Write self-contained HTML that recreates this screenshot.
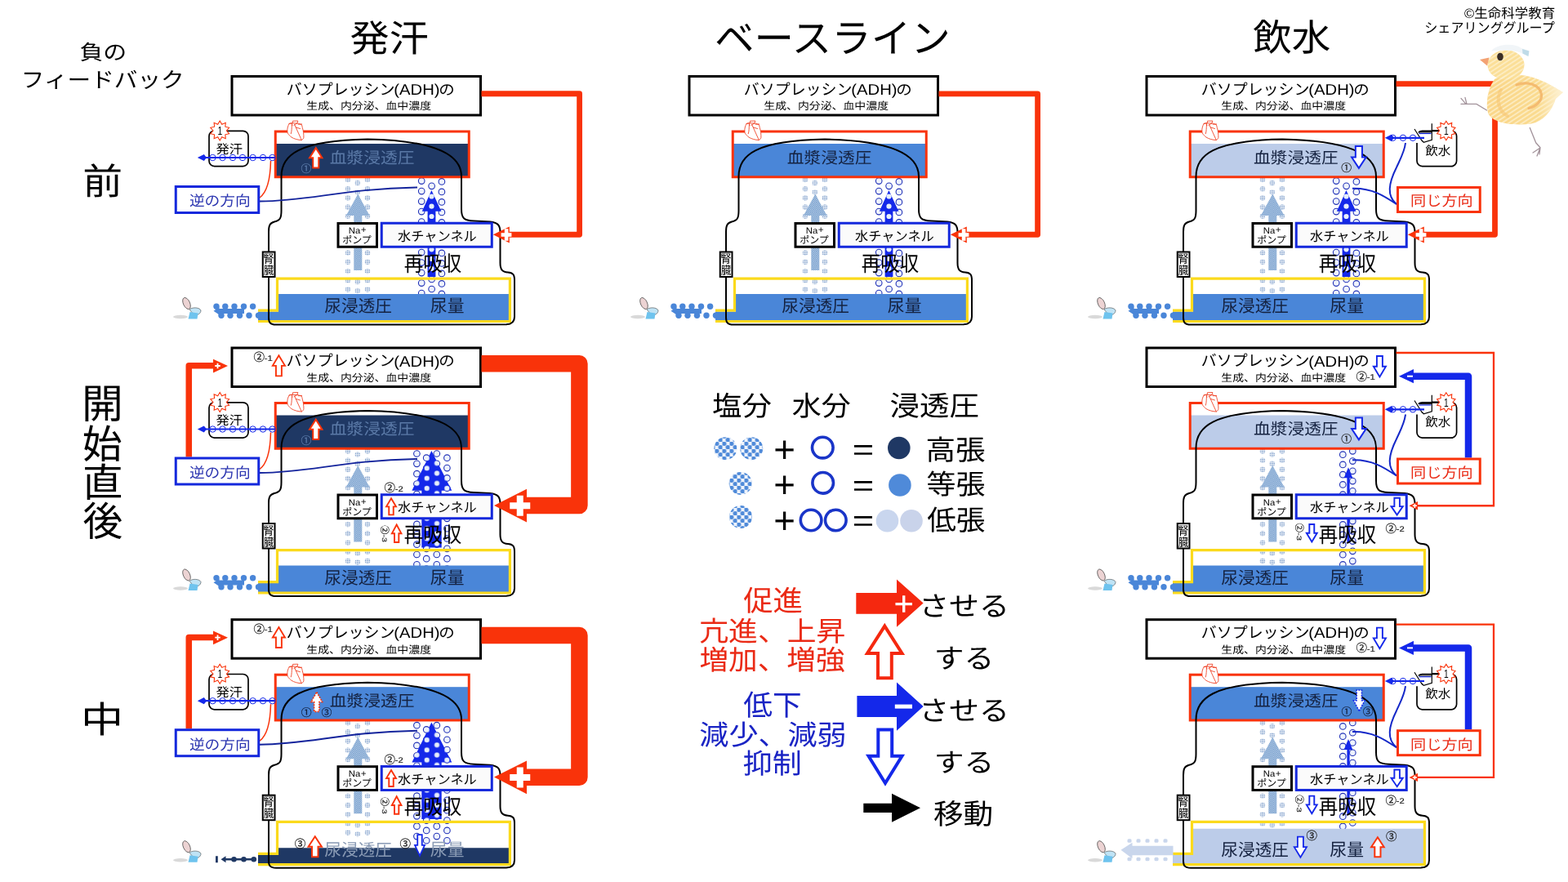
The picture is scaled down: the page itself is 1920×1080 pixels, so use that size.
<!DOCTYPE html>
<html lang="ja">
<head>
<meta charset="utf-8">
<title>負のフィードバック：発汗・ベースライン・飲水</title>
<style>
html,body{margin:0;padding:0;background:#fff;}
body{width:1920px;height:1080px;overflow:hidden;font-family:"Liberation Sans","Noto Sans CJK JP",sans-serif;}
svg{display:block;will-change:transform;}
svg text{font-family:"Liberation Sans","Noto Sans CJK JP",sans-serif;opacity:.995;text-rendering:geometricPrecision;}
</style>
</head>
<body>
<svg width="1920" height="1080" viewBox="0 0 1920 1080" role="img" aria-label="負のフィードバック 発汗 ベースライン 飲水 前 開始直後 中 バソプレッシン(ADH)の生成、内分泌、血中濃度 血漿浸透圧 水チャンネル Na+ポンプ 再吸収 尿浸透圧 尿量 腎臓">
<title>負のフィードバック：発汗・ベースライン・飲水（前／開始直後／中）</title>
<desc>バソプレッシン(ADH)の生成、内分泌、血中濃度。血漿浸透圧、Na+ポンプ、水チャンネル、再吸収、尿浸透圧、尿量、腎臓。逆の方向／同じ方向。塩分＋水分＝浸透圧（高張・等張・低張）。促進・亢進、上昇・増加、増強／低下・減少、減弱・抑制／移動。©生命科学教育シェアリンググループ</desc>
<defs>
<pattern id="pn" width="2.4" height="2.4" patternUnits="userSpaceOnUse"><rect width="2.4" height="2.4" fill="#d3e1f1"/><rect width="1.25" height="1.25" fill="#5a8ac2"/><rect x="1.2" y="1.2" width="1.25" height="1.25" fill="#5a8ac2"/></pattern>
<pattern id="pd" width="1.7" height="1.7" patternUnits="userSpaceOnUse"><rect width="1.7" height="1.7" fill="#f1f5fb"/><rect width="1" height="1" fill="#6d90c2"/></pattern>
<linearGradient id="cg" x1="0" x2="1" y1="0" y2="0"><stop offset="0" stop-color="#fad689"/><stop offset=".68" stop-color="#fadb90"/><stop offset="1" stop-color="#fdf3d9"/></linearGradient>
<pattern id="ph" width="4.6" height="4.6" patternUnits="userSpaceOnUse" patternTransform="rotate(-33)"><rect width="4.6" height="1.7" fill="#fdf0cb" opacity=".85"/></pattern>
<pattern id="pw" width="24.6" height="12.3" patternUnits="userSpaceOnUse" patternTransform="translate(498.1 216.25)"><rect width="24.6" height="12.3" fill="#1428ea"/><circle cx="12.3" cy="6.15" r="3.1" fill="#e6eefb"/><circle cx="0" cy="0" r="3.1" fill="#e6eefb"/><circle cx="24.6" cy="0" r="3.1" fill="#e6eefb"/><circle cx="0" cy="12.3" r="3.1" fill="#e6eefb"/><circle cx="24.6" cy="12.3" r="3.1" fill="#e6eefb"/></pattern>
<pattern id="pc" width="9" height="9" patternUnits="userSpaceOnUse" patternTransform="translate(2.5 1)"><rect width="9" height="9" fill="#eef3fb"/><circle cx="2.25" cy="2.25" r="2.7" fill="#4f8ad9"/><circle cx="6.75" cy="6.75" r="2.7" fill="#4f8ad9"/></pattern>
</defs>
<rect width="1920" height="1080" fill="#fff"/>
<g transform="translate(0 0)"><rect x="338" y="176" width="237" height="41" fill="#1f3864"/>
<circle cx="426" cy="220" r="3.3" fill="url(#pd)"/>
<circle cx="450" cy="220" r="3.3" fill="url(#pd)"/>
<circle cx="426" cy="231.2" r="3.3" fill="url(#pd)"/>
<circle cx="450" cy="231.2" r="3.3" fill="url(#pd)"/>
<circle cx="426" cy="242.4" r="3.3" fill="url(#pd)"/>
<circle cx="450" cy="242.4" r="3.3" fill="url(#pd)"/>
<circle cx="426" cy="253.6" r="3.3" fill="url(#pd)"/>
<circle cx="450" cy="253.6" r="3.3" fill="url(#pd)"/>
<circle cx="426" cy="264.8" r="3.3" fill="url(#pd)"/>
<circle cx="450" cy="264.8" r="3.3" fill="url(#pd)"/>
<circle cx="426" cy="276" r="3.3" fill="url(#pd)"/>
<circle cx="450" cy="276" r="3.3" fill="url(#pd)"/>
<circle cx="426" cy="287.2" r="3.3" fill="url(#pd)"/>
<circle cx="450" cy="287.2" r="3.3" fill="url(#pd)"/>
<circle cx="426" cy="298.4" r="3.3" fill="url(#pd)"/>
<circle cx="450" cy="298.4" r="3.3" fill="url(#pd)"/>
<circle cx="426" cy="309.6" r="3.3" fill="url(#pd)"/>
<circle cx="450" cy="309.6" r="3.3" fill="url(#pd)"/>
<circle cx="426" cy="320.8" r="3.3" fill="url(#pd)"/>
<circle cx="450" cy="320.8" r="3.3" fill="url(#pd)"/>
<circle cx="426" cy="332" r="3.3" fill="url(#pd)"/>
<circle cx="450" cy="332" r="3.3" fill="url(#pd)"/>
<circle cx="426" cy="343.2" r="3.3" fill="url(#pd)"/>
<circle cx="450" cy="343.2" r="3.3" fill="url(#pd)"/>
<circle cx="426" cy="354.4" r="3.3" fill="url(#pd)"/>
<circle cx="450" cy="354.4" r="3.3" fill="url(#pd)"/>
<circle cx="437.8" cy="224" r="3.3" fill="url(#pd)"/>
<circle cx="437.8" cy="235.4" r="3.3" fill="url(#pd)"/>
<circle cx="437.8" cy="345" r="3.3" fill="url(#pd)"/>
<circle cx="437.8" cy="356" r="3.3" fill="url(#pd)"/>
<path d="M438.3 237.5L452.5 264H443.3V331H433.3V264H423.8Z" fill="url(#pn)"/>
<circle cx="516.2" cy="221.6" r="3.8" fill="#eef3fc" stroke="#2232b8" stroke-width="1.1"/>
<circle cx="540.9" cy="222.4" r="3.8" fill="#eef3fc" stroke="#2232b8" stroke-width="1.1"/>
<circle cx="516.2" cy="234.1" r="3.8" fill="#eef3fc" stroke="#2232b8" stroke-width="1.1"/>
<circle cx="540.9" cy="234.9" r="3.8" fill="#eef3fc" stroke="#2232b8" stroke-width="1.1"/>
<circle cx="516.2" cy="246.6" r="3.8" fill="#eef3fc" stroke="#2232b8" stroke-width="1.1"/>
<circle cx="540.9" cy="247.4" r="3.8" fill="#eef3fc" stroke="#2232b8" stroke-width="1.1"/>
<circle cx="516.2" cy="259.1" r="3.8" fill="#eef3fc" stroke="#2232b8" stroke-width="1.1"/>
<circle cx="540.9" cy="259.9" r="3.8" fill="#eef3fc" stroke="#2232b8" stroke-width="1.1"/>
<circle cx="516.2" cy="271.6" r="3.8" fill="#eef3fc" stroke="#2232b8" stroke-width="1.1"/>
<circle cx="540.9" cy="272.4" r="3.8" fill="#eef3fc" stroke="#2232b8" stroke-width="1.1"/>
<circle cx="516.2" cy="284.1" r="3.8" fill="#eef3fc" stroke="#2232b8" stroke-width="1.1"/>
<circle cx="540.9" cy="284.9" r="3.8" fill="#eef3fc" stroke="#2232b8" stroke-width="1.1"/>
<circle cx="516.2" cy="296.6" r="3.8" fill="#eef3fc" stroke="#2232b8" stroke-width="1.1"/>
<circle cx="540.9" cy="297.4" r="3.8" fill="#eef3fc" stroke="#2232b8" stroke-width="1.1"/>
<circle cx="516.2" cy="309.1" r="3.8" fill="#eef3fc" stroke="#2232b8" stroke-width="1.1"/>
<circle cx="540.9" cy="309.9" r="3.8" fill="#eef3fc" stroke="#2232b8" stroke-width="1.1"/>
<circle cx="516.2" cy="321.6" r="3.8" fill="#eef3fc" stroke="#2232b8" stroke-width="1.1"/>
<circle cx="540.9" cy="322.4" r="3.8" fill="#eef3fc" stroke="#2232b8" stroke-width="1.1"/>
<circle cx="516.2" cy="334.1" r="3.8" fill="#eef3fc" stroke="#2232b8" stroke-width="1.1"/>
<circle cx="540.9" cy="334.9" r="3.8" fill="#eef3fc" stroke="#2232b8" stroke-width="1.1"/>
<circle cx="516.2" cy="346.6" r="3.8" fill="#eef3fc" stroke="#2232b8" stroke-width="1.1"/>
<circle cx="540.9" cy="347.4" r="3.8" fill="#eef3fc" stroke="#2232b8" stroke-width="1.1"/>
<circle cx="516.2" cy="359.1" r="3.8" fill="#eef3fc" stroke="#2232b8" stroke-width="1.1"/>
<circle cx="540.9" cy="359.9" r="3.8" fill="#eef3fc" stroke="#2232b8" stroke-width="1.1"/>
<circle cx="528.6" cy="227.8" r="3.8" fill="#eef3fc" stroke="#2232b8" stroke-width="1.1"/>
<circle cx="528.6" cy="342" r="3.8" fill="#eef3fc" stroke="#2232b8" stroke-width="1.1"/>
<circle cx="528.6" cy="354" r="3.8" fill="#eef3fc" stroke="#2232b8" stroke-width="1.1"/>
<path d="M528.4 233L540.4 258.8H533.4V339H523.6V258.8H516.8Z" fill="#1428ea"/>
<circle cx="528.5" cy="240.5" r="3.1" fill="#e6eefb"/>
<circle cx="528.5" cy="252.7" r="3.1" fill="#e6eefb"/>
<circle cx="528.5" cy="265" r="3.1" fill="#e6eefb"/>
<circle cx="528.5" cy="305.3" r="3.1" fill="#e6eefb"/>
<circle cx="528.5" cy="317" r="3.1" fill="#e6eefb"/>
<circle cx="528.5" cy="328.8" r="3.1" fill="#e6eefb"/>
<path d="M341 360H623V392.5H316V381.5H341Z" fill="#4a86d8"/>
<rect x="284" y="93.5" width="304.5" height="47.5" fill="#fff" stroke="#000" stroke-width="3"/>
<text transform="translate(350.79 115.61) scale(0.9475 0.927)" font-size="20" fill="#000">バソプレッシン</text>
<text transform="translate(482.34 116.13) scale(1.0119 0.9338)" font-size="20" fill="#000">(ADH)</text>
<text transform="translate(537.28 115.85) scale(0.9755 0.881)" font-size="20" fill="#000">の</text>
<text transform="translate(375.25 134.4) scale(0.6945 0.6305)" font-size="20" fill="#000">生成、内分泌、血中濃度</text>
<rect x="337.25" y="161" width="237" height="55.75" fill="none" stroke="#f9330a" stroke-width="3"/>
<path d="M316 380.2H339.5V341.1H624.4V393.5H316" fill="none" stroke="#fbda1c" stroke-width="3.2"/>
<path d="M344.5 258V216C344.5 190 365 172 450 170.5C535 172 565 190 565 216V256C565 267 568 270 580 270.5L600 271.5C610 272.5 612.5 276 612.5 285V322C612.5 330 615 333 622 333.5C628 334 630 336 630 343V388C630 394 627 397 620 397.3L338 397.5C331 397.3 329 395 329 389V284C329 277 330 273 336 271.5C343 270 344.5 267 344.5 258Z" fill="none" stroke="#000" stroke-width="2"/>
<rect x="321.75" y="308.5" width="14.75" height="30.5" fill="#fff" stroke="#000" stroke-width="2"/>
<text transform="translate(322.3 322.14) scale(0.6645 0.7255)" font-size="20" fill="#000">腎</text>
<text transform="translate(323.11 336.07) scale(0.6085 0.7055)" font-size="20" fill="#000">臓</text>
<rect x="414" y="273.5" width="47.5" height="28.75" fill="#fff" stroke="#000" stroke-width="3"/>
<text transform="translate(426.87 286.09) scale(0.5684 0.5446)" font-size="20" fill="#000">Na</text>
<text transform="translate(441.73 285.41) scale(0.5866 0.5723)" font-size="20" fill="#000">+</text>
<text transform="translate(419.27 298.29) scale(0.5985 0.594)" font-size="20" fill="#000">ポンプ</text>
<rect x="467.25" y="273.25" width="135" height="29" fill="#fbfbfb" stroke="#1428dc" stroke-width="3"/>
<text transform="translate(487.03 294.55) scale(0.8105 0.808)" font-size="20" fill="#000">水チャンネル</text>
<text transform="translate(403.65 199.74) scale(1.038 0.964)" font-size="20" fill="#5b7aa8">血漿浸透圧</text>
<text transform="translate(397.34 382.31) scale(1.0325 1.0415)" font-size="20" fill="#14213f">尿浸透圧</text>
<text transform="translate(526.83 382.37) scale(1.04 1.0745)" font-size="20" fill="#14213f">尿量</text>
<text transform="translate(494.86 331.65) scale(1.171 1.295)" font-size="20" fill="#000">再吸収</text>
<g transform="translate(0 0)" stroke="#ee3a1c" stroke-width=".85" stroke-linecap="round" stroke-linejoin="round"><path d="M354.1 151.5C352.5 154 351.5 158 351.9 160.7C352 163 352.6 164.5 357 168.1C360 170 365 171.5 369.3 171.5C371 170.5 372 169 371.9 168.1C372 165 371.5 160 370.4 156.7C370 154.500 369.5 153 369.3 152.600L365.200 151.200L358.200 150.700Z" fill="#fff"/><path d="M354.1 151.500L357.500 150.900L357.800 153.800M358.200 150.800L358.500 148.200L364.800 148L364 150.800L360 153.200M365.200 152.200L369.600 152M360.700 152.600L369.300 171.500M357.500 152.500C357 157 357.500 160 356.300 163.700M362.500 156l5 1.500" fill="none"/></g>
<g transform="translate(0 0)"><ellipse cx="221" cy="388" rx="9" ry="2.2" fill="#d9d9d9"/><ellipse cx="228.5" cy="371.5" rx="4" ry="7.5" transform="rotate(-25 228.5 371.5)" fill="#ecd3d3" stroke="#444" stroke-width=".7"/><path d="M232 379c3-3 12-3 14 1c0 4-4 6-8 6z" fill="#bfe3f5" stroke="#444" stroke-width=".6"/><path d="M232.5 382l10 1.5l-1 7h-11z" fill="#6ec3ee"/></g>
<g transform="translate(0 0)" fill="#4a86d8"><circle cx="265" cy="375.2" r="3.7" fill="#4a86d8"/><circle cx="275.8" cy="375.2" r="3.7" fill="#4a86d8"/><circle cx="287" cy="375.2" r="3.7" fill="#4a86d8"/><circle cx="298.5" cy="375.2" r="3.7" fill="#4a86d8"/><circle cx="309.6" cy="375.2" r="3.7" fill="#4a86d8"/><circle cx="271" cy="386.3" r="3.7" fill="#4a86d8"/><circle cx="282" cy="386.3" r="3.7" fill="#4a86d8"/><circle cx="293.5" cy="386.3" r="3.7" fill="#4a86d8"/><circle cx="305" cy="386.3" r="3.7" fill="#4a86d8"/><circle cx="316.5" cy="386.3" r="3.7" fill="#4a86d8"/><path d="M261.5 380.8l7-4.5v1.7h30.5v6h-30.5v1.5z"/></g>
<rect x="256" y="160.3" width="48" height="43.3" fill="#fff" rx="6.5" stroke="#000" stroke-width="1.7"/>
<text transform="translate(264.53 187.51) scale(0.815 0.759)" font-size="20" fill="#000">発汗</text>
<polygon points="269.2,148 271.73,152.2 276.25,150.29 275.83,155.18 280.61,156.29 277.4,160 280.61,163.71 275.83,164.82 276.25,169.71 271.73,167.8 269.2,172 266.67,167.8 262.15,169.71 262.57,164.82 257.79,163.71 261,160 257.79,156.29 262.57,155.18 262.15,150.29 266.67,152.2" fill="#fff" stroke="#f9330a" stroke-width="1.1"/>
<text transform="translate(266.42 165) scale(0.5103 0.7268)" font-size="20" fill="#000">1</text>
<circle cx="260.4" cy="193" r="3.7" fill="none" stroke="#1428ea" stroke-width="1"/>
<circle cx="272.5" cy="193" r="3.7" fill="none" stroke="#1428ea" stroke-width="1"/>
<circle cx="285" cy="193" r="3.7" fill="none" stroke="#1428ea" stroke-width="1"/>
<circle cx="297" cy="193" r="3.7" fill="none" stroke="#1428ea" stroke-width="1"/>
<circle cx="309.6" cy="193" r="3.7" fill="none" stroke="#1428ea" stroke-width="1"/>
<circle cx="322" cy="193" r="3.7" fill="none" stroke="#1428ea" stroke-width="1"/>
<circle cx="333.5" cy="193" r="3.7" fill="none" stroke="#1428ea" stroke-width="1"/>
<path d="M250 193H336.5" fill="none" stroke="#1428ea" stroke-width="2.2"/>
<path d="M241.8 193L249.8 188.9L253 193L249.8 197.1Z" fill="#1428ea"/>
<path d="M318 242C326 236 331 222 331.5 197" fill="none" stroke="#f9330a" stroke-width="1.5"/>
<path d="M318 246.5C380 246 420 231 511 229.5" fill="none" stroke="#14249c" stroke-width="1.9"/>
<rect x="215.25" y="228.5" width="101.5" height="32" fill="#fff" stroke="#1428dc" stroke-width="3"/>
<text transform="translate(231.88 252.32) scale(0.9355 0.879)" font-size="20" fill="#2a34b0">逆の方向</text>
<path d="M386.75 181.1L394.4 193.3H390.27V205.5H383.23V193.3H379.1Z" fill="#fff" stroke="#f9330a" stroke-width="2" stroke-linejoin="miter"/>
<text transform="translate(368.56 211.19) scale(0.644 0.644)" font-size="20" fill="#5b7aa8" stroke="#5b7aa8" stroke-width="0.4">①</text>
<path d="M589.5 114.75H709.6V287.25H624" fill="none" stroke="#f9330a" stroke-width="6.8" stroke-linejoin="round"/>
<path d="M603.8 287.3L623.8 277.6V297.6Z" fill="#f9330a"/>
<rect x="613.6" y="285.2" width="12.8" height="4.6" fill="#fff"/>
<rect x="617.8" y="280.2" width="4.6" height="14.6" fill="#fff"/>
</g>
<g transform="translate(560 0)"><rect x="338" y="176" width="237" height="41" fill="#4a86d8"/>
<circle cx="426" cy="220" r="3.3" fill="url(#pd)"/>
<circle cx="450" cy="220" r="3.3" fill="url(#pd)"/>
<circle cx="426" cy="231.2" r="3.3" fill="url(#pd)"/>
<circle cx="450" cy="231.2" r="3.3" fill="url(#pd)"/>
<circle cx="426" cy="242.4" r="3.3" fill="url(#pd)"/>
<circle cx="450" cy="242.4" r="3.3" fill="url(#pd)"/>
<circle cx="426" cy="253.6" r="3.3" fill="url(#pd)"/>
<circle cx="450" cy="253.6" r="3.3" fill="url(#pd)"/>
<circle cx="426" cy="264.8" r="3.3" fill="url(#pd)"/>
<circle cx="450" cy="264.8" r="3.3" fill="url(#pd)"/>
<circle cx="426" cy="276" r="3.3" fill="url(#pd)"/>
<circle cx="450" cy="276" r="3.3" fill="url(#pd)"/>
<circle cx="426" cy="287.2" r="3.3" fill="url(#pd)"/>
<circle cx="450" cy="287.2" r="3.3" fill="url(#pd)"/>
<circle cx="426" cy="298.4" r="3.3" fill="url(#pd)"/>
<circle cx="450" cy="298.4" r="3.3" fill="url(#pd)"/>
<circle cx="426" cy="309.6" r="3.3" fill="url(#pd)"/>
<circle cx="450" cy="309.6" r="3.3" fill="url(#pd)"/>
<circle cx="426" cy="320.8" r="3.3" fill="url(#pd)"/>
<circle cx="450" cy="320.8" r="3.3" fill="url(#pd)"/>
<circle cx="426" cy="332" r="3.3" fill="url(#pd)"/>
<circle cx="450" cy="332" r="3.3" fill="url(#pd)"/>
<circle cx="426" cy="343.2" r="3.3" fill="url(#pd)"/>
<circle cx="450" cy="343.2" r="3.3" fill="url(#pd)"/>
<circle cx="426" cy="354.4" r="3.3" fill="url(#pd)"/>
<circle cx="450" cy="354.4" r="3.3" fill="url(#pd)"/>
<circle cx="437.8" cy="224" r="3.3" fill="url(#pd)"/>
<circle cx="437.8" cy="235.4" r="3.3" fill="url(#pd)"/>
<circle cx="437.8" cy="345" r="3.3" fill="url(#pd)"/>
<circle cx="437.8" cy="356" r="3.3" fill="url(#pd)"/>
<path d="M438.3 237.5L452.5 264H443.3V331H433.3V264H423.8Z" fill="url(#pn)"/>
<circle cx="516.2" cy="221.6" r="3.8" fill="#eef3fc" stroke="#2232b8" stroke-width="1.1"/>
<circle cx="540.9" cy="222.4" r="3.8" fill="#eef3fc" stroke="#2232b8" stroke-width="1.1"/>
<circle cx="516.2" cy="234.1" r="3.8" fill="#eef3fc" stroke="#2232b8" stroke-width="1.1"/>
<circle cx="540.9" cy="234.9" r="3.8" fill="#eef3fc" stroke="#2232b8" stroke-width="1.1"/>
<circle cx="516.2" cy="246.6" r="3.8" fill="#eef3fc" stroke="#2232b8" stroke-width="1.1"/>
<circle cx="540.9" cy="247.4" r="3.8" fill="#eef3fc" stroke="#2232b8" stroke-width="1.1"/>
<circle cx="516.2" cy="259.1" r="3.8" fill="#eef3fc" stroke="#2232b8" stroke-width="1.1"/>
<circle cx="540.9" cy="259.9" r="3.8" fill="#eef3fc" stroke="#2232b8" stroke-width="1.1"/>
<circle cx="516.2" cy="271.6" r="3.8" fill="#eef3fc" stroke="#2232b8" stroke-width="1.1"/>
<circle cx="540.9" cy="272.4" r="3.8" fill="#eef3fc" stroke="#2232b8" stroke-width="1.1"/>
<circle cx="516.2" cy="284.1" r="3.8" fill="#eef3fc" stroke="#2232b8" stroke-width="1.1"/>
<circle cx="540.9" cy="284.9" r="3.8" fill="#eef3fc" stroke="#2232b8" stroke-width="1.1"/>
<circle cx="516.2" cy="296.6" r="3.8" fill="#eef3fc" stroke="#2232b8" stroke-width="1.1"/>
<circle cx="540.9" cy="297.4" r="3.8" fill="#eef3fc" stroke="#2232b8" stroke-width="1.1"/>
<circle cx="516.2" cy="309.1" r="3.8" fill="#eef3fc" stroke="#2232b8" stroke-width="1.1"/>
<circle cx="540.9" cy="309.9" r="3.8" fill="#eef3fc" stroke="#2232b8" stroke-width="1.1"/>
<circle cx="516.2" cy="321.6" r="3.8" fill="#eef3fc" stroke="#2232b8" stroke-width="1.1"/>
<circle cx="540.9" cy="322.4" r="3.8" fill="#eef3fc" stroke="#2232b8" stroke-width="1.1"/>
<circle cx="516.2" cy="334.1" r="3.8" fill="#eef3fc" stroke="#2232b8" stroke-width="1.1"/>
<circle cx="540.9" cy="334.9" r="3.8" fill="#eef3fc" stroke="#2232b8" stroke-width="1.1"/>
<circle cx="516.2" cy="346.6" r="3.8" fill="#eef3fc" stroke="#2232b8" stroke-width="1.1"/>
<circle cx="540.9" cy="347.4" r="3.8" fill="#eef3fc" stroke="#2232b8" stroke-width="1.1"/>
<circle cx="516.2" cy="359.1" r="3.8" fill="#eef3fc" stroke="#2232b8" stroke-width="1.1"/>
<circle cx="540.9" cy="359.9" r="3.8" fill="#eef3fc" stroke="#2232b8" stroke-width="1.1"/>
<circle cx="528.6" cy="227.8" r="3.8" fill="#eef3fc" stroke="#2232b8" stroke-width="1.1"/>
<circle cx="528.6" cy="342" r="3.8" fill="#eef3fc" stroke="#2232b8" stroke-width="1.1"/>
<circle cx="528.6" cy="354" r="3.8" fill="#eef3fc" stroke="#2232b8" stroke-width="1.1"/>
<path d="M528.4 233L540.4 258.8H533.4V339H523.6V258.8H516.8Z" fill="#1428ea"/>
<circle cx="528.5" cy="240.5" r="3.1" fill="#e6eefb"/>
<circle cx="528.5" cy="252.7" r="3.1" fill="#e6eefb"/>
<circle cx="528.5" cy="265" r="3.1" fill="#e6eefb"/>
<circle cx="528.5" cy="305.3" r="3.1" fill="#e6eefb"/>
<circle cx="528.5" cy="317" r="3.1" fill="#e6eefb"/>
<circle cx="528.5" cy="328.8" r="3.1" fill="#e6eefb"/>
<path d="M341 360H623V392.5H316V381.5H341Z" fill="#4a86d8"/>
<rect x="284" y="93.5" width="304.5" height="47.5" fill="#fff" stroke="#000" stroke-width="3"/>
<text transform="translate(350.79 115.61) scale(0.9475 0.927)" font-size="20" fill="#000">バソプレッシン</text>
<text transform="translate(482.34 116.13) scale(1.0119 0.9338)" font-size="20" fill="#000">(ADH)</text>
<text transform="translate(537.28 115.85) scale(0.9755 0.881)" font-size="20" fill="#000">の</text>
<text transform="translate(375.25 134.4) scale(0.6945 0.6305)" font-size="20" fill="#000">生成、内分泌、血中濃度</text>
<rect x="337.25" y="161" width="237" height="55.75" fill="none" stroke="#f9330a" stroke-width="3"/>
<path d="M316 380.2H339.5V341.1H624.4V393.5H316" fill="none" stroke="#fbda1c" stroke-width="3.2"/>
<path d="M344.5 258V216C344.5 190 365 172 450 170.5C535 172 565 190 565 216V256C565 267 568 270 580 270.5L600 271.5C610 272.5 612.5 276 612.5 285V322C612.5 330 615 333 622 333.5C628 334 630 336 630 343V388C630 394 627 397 620 397.3L338 397.5C331 397.3 329 395 329 389V284C329 277 330 273 336 271.5C343 270 344.5 267 344.5 258Z" fill="none" stroke="#000" stroke-width="2"/>
<rect x="321.75" y="308.5" width="14.75" height="30.5" fill="#fff" stroke="#000" stroke-width="2"/>
<text transform="translate(322.3 322.14) scale(0.6645 0.7255)" font-size="20" fill="#000">腎</text>
<text transform="translate(323.11 336.07) scale(0.6085 0.7055)" font-size="20" fill="#000">臓</text>
<rect x="414" y="273.5" width="47.5" height="28.75" fill="#fff" stroke="#000" stroke-width="3"/>
<text transform="translate(426.87 286.09) scale(0.5684 0.5446)" font-size="20" fill="#000">Na</text>
<text transform="translate(441.73 285.41) scale(0.5866 0.5723)" font-size="20" fill="#000">+</text>
<text transform="translate(419.27 298.29) scale(0.5985 0.594)" font-size="20" fill="#000">ポンプ</text>
<rect x="467.25" y="273.25" width="135" height="29" fill="#fbfbfb" stroke="#1428dc" stroke-width="3"/>
<text transform="translate(487.03 294.55) scale(0.8105 0.808)" font-size="20" fill="#000">水チャンネル</text>
<text transform="translate(403.65 199.74) scale(1.038 0.964)" font-size="20" fill="#14213f">血漿浸透圧</text>
<text transform="translate(397.34 382.31) scale(1.0325 1.0415)" font-size="20" fill="#14213f">尿浸透圧</text>
<text transform="translate(526.83 382.37) scale(1.04 1.0745)" font-size="20" fill="#14213f">尿量</text>
<text transform="translate(494.86 331.65) scale(1.171 1.295)" font-size="20" fill="#000">再吸収</text>
<g transform="translate(0 0)" stroke="#ee3a1c" stroke-width=".85" stroke-linecap="round" stroke-linejoin="round"><path d="M354.1 151.5C352.5 154 351.5 158 351.9 160.7C352 163 352.6 164.5 357 168.1C360 170 365 171.5 369.3 171.5C371 170.5 372 169 371.9 168.1C372 165 371.5 160 370.4 156.7C370 154.500 369.5 153 369.3 152.600L365.200 151.200L358.200 150.700Z" fill="#fff"/><path d="M354.1 151.500L357.500 150.900L357.800 153.800M358.200 150.800L358.500 148.200L364.800 148L364 150.800L360 153.200M365.200 152.200L369.600 152M360.700 152.600L369.300 171.500M357.500 152.500C357 157 357.500 160 356.300 163.700M362.500 156l5 1.500" fill="none"/></g>
<g transform="translate(0 0)"><ellipse cx="221" cy="388" rx="9" ry="2.2" fill="#d9d9d9"/><ellipse cx="228.5" cy="371.5" rx="4" ry="7.5" transform="rotate(-25 228.5 371.5)" fill="#ecd3d3" stroke="#444" stroke-width=".7"/><path d="M232 379c3-3 12-3 14 1c0 4-4 6-8 6z" fill="#bfe3f5" stroke="#444" stroke-width=".6"/><path d="M232.5 382l10 1.5l-1 7h-11z" fill="#6ec3ee"/></g>
<g transform="translate(0 0)" fill="#4a86d8"><circle cx="265" cy="375.2" r="3.7" fill="#4a86d8"/><circle cx="275.8" cy="375.2" r="3.7" fill="#4a86d8"/><circle cx="287" cy="375.2" r="3.7" fill="#4a86d8"/><circle cx="298.5" cy="375.2" r="3.7" fill="#4a86d8"/><circle cx="309.6" cy="375.2" r="3.7" fill="#4a86d8"/><circle cx="271" cy="386.3" r="3.7" fill="#4a86d8"/><circle cx="282" cy="386.3" r="3.7" fill="#4a86d8"/><circle cx="293.5" cy="386.3" r="3.7" fill="#4a86d8"/><circle cx="305" cy="386.3" r="3.7" fill="#4a86d8"/><circle cx="316.5" cy="386.3" r="3.7" fill="#4a86d8"/><path d="M261.5 380.8l7-4.5v1.7h30.5v6h-30.5v1.5z"/></g>
<path d="M589.5 114.9H710.6V287.25H624" fill="none" stroke="#f9330a" stroke-width="6.8" stroke-linejoin="round"/>
<path d="M603.8 287.3L623.8 277.6V297.6Z" fill="#f9330a"/>
<rect x="613.6" y="285.2" width="12.8" height="4.6" fill="#fff"/>
<rect x="617.8" y="280.2" width="4.6" height="14.6" fill="#fff"/>
</g>
<g transform="translate(1120 0)"><rect x="338" y="176" width="237" height="41" fill="#bccce9"/>
<circle cx="426" cy="220" r="3.3" fill="url(#pd)"/>
<circle cx="450" cy="220" r="3.3" fill="url(#pd)"/>
<circle cx="426" cy="231.2" r="3.3" fill="url(#pd)"/>
<circle cx="450" cy="231.2" r="3.3" fill="url(#pd)"/>
<circle cx="426" cy="242.4" r="3.3" fill="url(#pd)"/>
<circle cx="450" cy="242.4" r="3.3" fill="url(#pd)"/>
<circle cx="426" cy="253.6" r="3.3" fill="url(#pd)"/>
<circle cx="450" cy="253.6" r="3.3" fill="url(#pd)"/>
<circle cx="426" cy="264.8" r="3.3" fill="url(#pd)"/>
<circle cx="450" cy="264.8" r="3.3" fill="url(#pd)"/>
<circle cx="426" cy="276" r="3.3" fill="url(#pd)"/>
<circle cx="450" cy="276" r="3.3" fill="url(#pd)"/>
<circle cx="426" cy="287.2" r="3.3" fill="url(#pd)"/>
<circle cx="450" cy="287.2" r="3.3" fill="url(#pd)"/>
<circle cx="426" cy="298.4" r="3.3" fill="url(#pd)"/>
<circle cx="450" cy="298.4" r="3.3" fill="url(#pd)"/>
<circle cx="426" cy="309.6" r="3.3" fill="url(#pd)"/>
<circle cx="450" cy="309.6" r="3.3" fill="url(#pd)"/>
<circle cx="426" cy="320.8" r="3.3" fill="url(#pd)"/>
<circle cx="450" cy="320.8" r="3.3" fill="url(#pd)"/>
<circle cx="426" cy="332" r="3.3" fill="url(#pd)"/>
<circle cx="450" cy="332" r="3.3" fill="url(#pd)"/>
<circle cx="426" cy="343.2" r="3.3" fill="url(#pd)"/>
<circle cx="450" cy="343.2" r="3.3" fill="url(#pd)"/>
<circle cx="426" cy="354.4" r="3.3" fill="url(#pd)"/>
<circle cx="450" cy="354.4" r="3.3" fill="url(#pd)"/>
<circle cx="437.8" cy="224" r="3.3" fill="url(#pd)"/>
<circle cx="437.8" cy="235.4" r="3.3" fill="url(#pd)"/>
<circle cx="437.8" cy="345" r="3.3" fill="url(#pd)"/>
<circle cx="437.8" cy="356" r="3.3" fill="url(#pd)"/>
<path d="M438.3 237.5L452.5 264H443.3V331H433.3V264H423.8Z" fill="url(#pn)"/>
<circle cx="516.2" cy="221.6" r="3.8" fill="#eef3fc" stroke="#2232b8" stroke-width="1.1"/>
<circle cx="540.9" cy="222.4" r="3.8" fill="#eef3fc" stroke="#2232b8" stroke-width="1.1"/>
<circle cx="516.2" cy="234.1" r="3.8" fill="#eef3fc" stroke="#2232b8" stroke-width="1.1"/>
<circle cx="540.9" cy="234.9" r="3.8" fill="#eef3fc" stroke="#2232b8" stroke-width="1.1"/>
<circle cx="516.2" cy="246.6" r="3.8" fill="#eef3fc" stroke="#2232b8" stroke-width="1.1"/>
<circle cx="540.9" cy="247.4" r="3.8" fill="#eef3fc" stroke="#2232b8" stroke-width="1.1"/>
<circle cx="516.2" cy="259.1" r="3.8" fill="#eef3fc" stroke="#2232b8" stroke-width="1.1"/>
<circle cx="540.9" cy="259.9" r="3.8" fill="#eef3fc" stroke="#2232b8" stroke-width="1.1"/>
<circle cx="516.2" cy="271.6" r="3.8" fill="#eef3fc" stroke="#2232b8" stroke-width="1.1"/>
<circle cx="540.9" cy="272.4" r="3.8" fill="#eef3fc" stroke="#2232b8" stroke-width="1.1"/>
<circle cx="516.2" cy="284.1" r="3.8" fill="#eef3fc" stroke="#2232b8" stroke-width="1.1"/>
<circle cx="540.9" cy="284.9" r="3.8" fill="#eef3fc" stroke="#2232b8" stroke-width="1.1"/>
<circle cx="516.2" cy="296.6" r="3.8" fill="#eef3fc" stroke="#2232b8" stroke-width="1.1"/>
<circle cx="540.9" cy="297.4" r="3.8" fill="#eef3fc" stroke="#2232b8" stroke-width="1.1"/>
<circle cx="516.2" cy="309.1" r="3.8" fill="#eef3fc" stroke="#2232b8" stroke-width="1.1"/>
<circle cx="540.9" cy="309.9" r="3.8" fill="#eef3fc" stroke="#2232b8" stroke-width="1.1"/>
<circle cx="516.2" cy="321.6" r="3.8" fill="#eef3fc" stroke="#2232b8" stroke-width="1.1"/>
<circle cx="540.9" cy="322.4" r="3.8" fill="#eef3fc" stroke="#2232b8" stroke-width="1.1"/>
<circle cx="516.2" cy="334.1" r="3.8" fill="#eef3fc" stroke="#2232b8" stroke-width="1.1"/>
<circle cx="540.9" cy="334.9" r="3.8" fill="#eef3fc" stroke="#2232b8" stroke-width="1.1"/>
<circle cx="516.2" cy="346.6" r="3.8" fill="#eef3fc" stroke="#2232b8" stroke-width="1.1"/>
<circle cx="540.9" cy="347.4" r="3.8" fill="#eef3fc" stroke="#2232b8" stroke-width="1.1"/>
<circle cx="516.2" cy="359.1" r="3.8" fill="#eef3fc" stroke="#2232b8" stroke-width="1.1"/>
<circle cx="540.9" cy="359.9" r="3.8" fill="#eef3fc" stroke="#2232b8" stroke-width="1.1"/>
<circle cx="528.6" cy="227.8" r="3.8" fill="#eef3fc" stroke="#2232b8" stroke-width="1.1"/>
<circle cx="528.6" cy="342" r="3.8" fill="#eef3fc" stroke="#2232b8" stroke-width="1.1"/>
<circle cx="528.6" cy="354" r="3.8" fill="#eef3fc" stroke="#2232b8" stroke-width="1.1"/>
<path d="M528.4 233L540.4 258.8H533.4V339H523.6V258.8H516.8Z" fill="#1428ea"/>
<circle cx="528.5" cy="240.5" r="3.1" fill="#e6eefb"/>
<circle cx="528.5" cy="252.7" r="3.1" fill="#e6eefb"/>
<circle cx="528.5" cy="265" r="3.1" fill="#e6eefb"/>
<circle cx="528.5" cy="305.3" r="3.1" fill="#e6eefb"/>
<circle cx="528.5" cy="317" r="3.1" fill="#e6eefb"/>
<circle cx="528.5" cy="328.8" r="3.1" fill="#e6eefb"/>
<path d="M341 360H623V392.5H316V381.5H341Z" fill="#4a86d8"/>
<rect x="284" y="93.5" width="304.5" height="47.5" fill="#fff" stroke="#000" stroke-width="3"/>
<text transform="translate(350.79 115.61) scale(0.9475 0.927)" font-size="20" fill="#000">バソプレッシン</text>
<text transform="translate(482.34 116.13) scale(1.0119 0.9338)" font-size="20" fill="#000">(ADH)</text>
<text transform="translate(537.28 115.85) scale(0.9755 0.881)" font-size="20" fill="#000">の</text>
<text transform="translate(375.25 134.4) scale(0.6945 0.6305)" font-size="20" fill="#000">生成、内分泌、血中濃度</text>
<rect x="337.25" y="161" width="237" height="55.75" fill="none" stroke="#f9330a" stroke-width="3"/>
<path d="M316 380.2H339.5V341.1H624.4V393.5H316" fill="none" stroke="#fbda1c" stroke-width="3.2"/>
<path d="M344.5 258V216C344.5 190 365 172 450 170.5C535 172 565 190 565 216V256C565 267 568 270 580 270.5L600 271.5C610 272.5 612.5 276 612.5 285V322C612.5 330 615 333 622 333.5C628 334 630 336 630 343V388C630 394 627 397 620 397.3L338 397.5C331 397.3 329 395 329 389V284C329 277 330 273 336 271.5C343 270 344.5 267 344.5 258Z" fill="none" stroke="#000" stroke-width="2"/>
<rect x="321.75" y="308.5" width="14.75" height="30.5" fill="#fff" stroke="#000" stroke-width="2"/>
<text transform="translate(322.3 322.14) scale(0.6645 0.7255)" font-size="20" fill="#000">腎</text>
<text transform="translate(323.11 336.07) scale(0.6085 0.7055)" font-size="20" fill="#000">臓</text>
<rect x="414" y="273.5" width="47.5" height="28.75" fill="#fff" stroke="#000" stroke-width="3"/>
<text transform="translate(426.87 286.09) scale(0.5684 0.5446)" font-size="20" fill="#000">Na</text>
<text transform="translate(441.73 285.41) scale(0.5866 0.5723)" font-size="20" fill="#000">+</text>
<text transform="translate(419.27 298.29) scale(0.5985 0.594)" font-size="20" fill="#000">ポンプ</text>
<rect x="467.25" y="273.25" width="135" height="29" fill="#fbfbfb" stroke="#1428dc" stroke-width="3"/>
<text transform="translate(484.03 294.55) scale(0.8105 0.808)" font-size="20" fill="#000">水チャンネル</text>
<text transform="translate(414.95 199.74) scale(1.038 0.964)" font-size="20" fill="#14213f">血漿浸透圧</text>
<text transform="translate(375.34 382.31) scale(1.0325 1.0415)" font-size="20" fill="#14213f">尿浸透圧</text>
<text transform="translate(508.33 382.37) scale(1.04 1.0745)" font-size="20" fill="#14213f">尿量</text>
<text transform="translate(494.86 331.65) scale(1.171 1.295)" font-size="20" fill="#000">再吸収</text>
<g transform="translate(0 0)" stroke="#ee3a1c" stroke-width=".85" stroke-linecap="round" stroke-linejoin="round"><path d="M354.1 151.5C352.5 154 351.5 158 351.9 160.7C352 163 352.6 164.5 357 168.1C360 170 365 171.5 369.3 171.5C371 170.5 372 169 371.9 168.1C372 165 371.5 160 370.4 156.7C370 154.500 369.5 153 369.3 152.600L365.200 151.200L358.200 150.700Z" fill="#fff"/><path d="M354.1 151.500L357.500 150.900L357.800 153.800M358.200 150.800L358.500 148.200L364.800 148L364 150.800L360 153.200M365.200 152.200L369.600 152M360.700 152.600L369.300 171.500M357.500 152.500C357 157 357.500 160 356.300 163.700M362.500 156l5 1.500" fill="none"/></g>
<g transform="translate(0 0)"><ellipse cx="221" cy="388" rx="9" ry="2.2" fill="#d9d9d9"/><ellipse cx="228.5" cy="371.5" rx="4" ry="7.5" transform="rotate(-25 228.5 371.5)" fill="#ecd3d3" stroke="#444" stroke-width=".7"/><path d="M232 379c3-3 12-3 14 1c0 4-4 6-8 6z" fill="#bfe3f5" stroke="#444" stroke-width=".6"/><path d="M232.5 382l10 1.5l-1 7h-11z" fill="#6ec3ee"/></g>
<g transform="translate(0 0)" fill="#4a86d8"><circle cx="265" cy="375.2" r="3.7" fill="#4a86d8"/><circle cx="275.8" cy="375.2" r="3.7" fill="#4a86d8"/><circle cx="287" cy="375.2" r="3.7" fill="#4a86d8"/><circle cx="298.5" cy="375.2" r="3.7" fill="#4a86d8"/><circle cx="309.6" cy="375.2" r="3.7" fill="#4a86d8"/><circle cx="271" cy="386.3" r="3.7" fill="#4a86d8"/><circle cx="282" cy="386.3" r="3.7" fill="#4a86d8"/><circle cx="293.5" cy="386.3" r="3.7" fill="#4a86d8"/><circle cx="305" cy="386.3" r="3.7" fill="#4a86d8"/><circle cx="316.5" cy="386.3" r="3.7" fill="#4a86d8"/><path d="M261.5 380.8l7-4.5v1.7h30.5v6h-30.5v1.5z"/></g>
<path d="M589.5 102.6H710.5V287.25H624" fill="none" stroke="#f9330a" stroke-width="6.8" stroke-linejoin="round"/>
<path d="M603.8 287.3L623.8 277.6V297.6Z" fill="#f9330a"/>
<rect x="613.6" y="285.2" width="12.8" height="4.6" fill="#fff"/>
<rect x="617.8" y="280.2" width="4.6" height="14.6" fill="#fff"/>
<rect x="615" y="160.3" width="48.6" height="43.3" fill="#fff" rx="6.5" stroke="#000" stroke-width="1.7"/>
<text transform="translate(625.22 189.77) scale(0.7805 0.759)" font-size="20" fill="#000">飲水</text>
<g transform="translate(0 0)" fill="none" stroke="#000" stroke-width="1.2"><path d="M612.5 157.5h4.4v4.9h16v9l-10 3l-3.4-3.4l-2 4h-5z" fill="#fff" stroke="none"/><path d="M612 158l9.7 15.3M616.7 161.8h16.6M633.3 151.2v20l-10 3l-3.3-3.4M633.3 159.5h18"/><path d="M617.5 163.5h15" stroke="#1428dc"/></g>
<polygon points="650.8,148.2 653.33,152.2 657.74,150.45 657.43,155.18 662.02,156.35 659,160 662.02,163.65 657.43,164.82 657.74,169.55 653.33,167.8 650.8,171.8 648.27,167.8 643.86,169.55 644.17,164.82 639.58,163.65 642.6,160 639.58,156.35 644.17,155.18 643.86,150.45 648.27,152.2" fill="#fff" stroke="#f9330a" stroke-width="1.1"/>
<text transform="translate(648.02 165) scale(0.5103 0.7268)" font-size="20" fill="#000">1</text>
<circle cx="585.4" cy="168.8" r="3.7" fill="none" stroke="#1428ea" stroke-width="1"/>
<circle cx="598" cy="168.8" r="3.7" fill="none" stroke="#1428ea" stroke-width="1"/>
<circle cx="610" cy="168.8" r="3.7" fill="none" stroke="#1428ea" stroke-width="1"/>
<path d="M582 168.8H624" fill="none" stroke="#1428ea" stroke-width="2.2"/>
<path d="M575.8 168.8L583.8 164.7L587 168.8L583.8 172.9Z" fill="#1428ea"/>
<path d="M590 250C575 240 560 230 536 230.8" fill="none" stroke="#1428c8" stroke-width="2"/>
<path d="M590 250C578 240 580 225 590 205C596 192 600 185 601 175" fill="none" stroke="#1428c8" stroke-width="2"/>
<rect x="591.5" y="229.5" width="100.75" height="30" fill="#fff" stroke="#f9330a" stroke-width="3"/>
<text transform="translate(607.11 252.32) scale(0.9585 0.879)" font-size="20" fill="#ea2a15">同じ方向</text>
<path d="M543.9 205.9L552.7 192.45H547.95V179H539.85V192.45H535.1Z" fill="#fff" stroke="#1428ea" stroke-width="2" stroke-linejoin="miter"/>
<text transform="translate(522.36 209.89) scale(0.644 0.644)" font-size="20" fill="#222" stroke="#222" stroke-width="0.4">①</text>
</g>
<g transform="translate(0 332.5)"><rect x="338" y="176" width="237" height="41" fill="#1f3864"/>
<circle cx="426" cy="220" r="3.3" fill="url(#pd)"/>
<circle cx="450" cy="220" r="3.3" fill="url(#pd)"/>
<circle cx="426" cy="231.2" r="3.3" fill="url(#pd)"/>
<circle cx="450" cy="231.2" r="3.3" fill="url(#pd)"/>
<circle cx="426" cy="242.4" r="3.3" fill="url(#pd)"/>
<circle cx="450" cy="242.4" r="3.3" fill="url(#pd)"/>
<circle cx="426" cy="253.6" r="3.3" fill="url(#pd)"/>
<circle cx="450" cy="253.6" r="3.3" fill="url(#pd)"/>
<circle cx="426" cy="264.8" r="3.3" fill="url(#pd)"/>
<circle cx="450" cy="264.8" r="3.3" fill="url(#pd)"/>
<circle cx="426" cy="276" r="3.3" fill="url(#pd)"/>
<circle cx="450" cy="276" r="3.3" fill="url(#pd)"/>
<circle cx="426" cy="287.2" r="3.3" fill="url(#pd)"/>
<circle cx="450" cy="287.2" r="3.3" fill="url(#pd)"/>
<circle cx="426" cy="298.4" r="3.3" fill="url(#pd)"/>
<circle cx="450" cy="298.4" r="3.3" fill="url(#pd)"/>
<circle cx="426" cy="309.6" r="3.3" fill="url(#pd)"/>
<circle cx="450" cy="309.6" r="3.3" fill="url(#pd)"/>
<circle cx="426" cy="320.8" r="3.3" fill="url(#pd)"/>
<circle cx="450" cy="320.8" r="3.3" fill="url(#pd)"/>
<circle cx="426" cy="332" r="3.3" fill="url(#pd)"/>
<circle cx="450" cy="332" r="3.3" fill="url(#pd)"/>
<circle cx="426" cy="343.2" r="3.3" fill="url(#pd)"/>
<circle cx="450" cy="343.2" r="3.3" fill="url(#pd)"/>
<circle cx="426" cy="354.4" r="3.3" fill="url(#pd)"/>
<circle cx="450" cy="354.4" r="3.3" fill="url(#pd)"/>
<circle cx="437.8" cy="224" r="3.3" fill="url(#pd)"/>
<circle cx="437.8" cy="235.4" r="3.3" fill="url(#pd)"/>
<circle cx="437.8" cy="345" r="3.3" fill="url(#pd)"/>
<circle cx="437.8" cy="356" r="3.3" fill="url(#pd)"/>
<path d="M438.3 237.5L452.5 264H443.3V331H433.3V264H423.8Z" fill="url(#pn)"/>
<circle cx="510.4" cy="223" r="3.8" fill="#eef3fc" stroke="#2232b8" stroke-width="1.1"/>
<circle cx="534.8" cy="223" r="3.8" fill="#eef3fc" stroke="#2232b8" stroke-width="1.1"/>
<circle cx="522.2" cy="228.2" r="3.8" fill="#eef3fc" stroke="#2232b8" stroke-width="1.1"/>
<circle cx="547.4" cy="228.2" r="3.8" fill="#eef3fc" stroke="#2232b8" stroke-width="1.1"/>
<circle cx="510.4" cy="235.35" r="3.8" fill="#eef3fc" stroke="#2232b8" stroke-width="1.1"/>
<circle cx="534.8" cy="235.35" r="3.8" fill="#eef3fc" stroke="#2232b8" stroke-width="1.1"/>
<circle cx="522.2" cy="240.55" r="3.8" fill="#eef3fc" stroke="#2232b8" stroke-width="1.1"/>
<circle cx="547.4" cy="240.55" r="3.8" fill="#eef3fc" stroke="#2232b8" stroke-width="1.1"/>
<circle cx="510.4" cy="247.7" r="3.8" fill="#eef3fc" stroke="#2232b8" stroke-width="1.1"/>
<circle cx="534.8" cy="247.7" r="3.8" fill="#eef3fc" stroke="#2232b8" stroke-width="1.1"/>
<circle cx="522.2" cy="252.9" r="3.8" fill="#eef3fc" stroke="#2232b8" stroke-width="1.1"/>
<circle cx="547.4" cy="252.9" r="3.8" fill="#eef3fc" stroke="#2232b8" stroke-width="1.1"/>
<circle cx="510.4" cy="260.05" r="3.8" fill="#eef3fc" stroke="#2232b8" stroke-width="1.1"/>
<circle cx="534.8" cy="260.05" r="3.8" fill="#eef3fc" stroke="#2232b8" stroke-width="1.1"/>
<circle cx="522.2" cy="265.25" r="3.8" fill="#eef3fc" stroke="#2232b8" stroke-width="1.1"/>
<circle cx="547.4" cy="265.25" r="3.8" fill="#eef3fc" stroke="#2232b8" stroke-width="1.1"/>
<circle cx="510.4" cy="272.4" r="3.8" fill="#eef3fc" stroke="#2232b8" stroke-width="1.1"/>
<circle cx="534.8" cy="272.4" r="3.8" fill="#eef3fc" stroke="#2232b8" stroke-width="1.1"/>
<circle cx="522.2" cy="277.6" r="3.8" fill="#eef3fc" stroke="#2232b8" stroke-width="1.1"/>
<circle cx="547.4" cy="277.6" r="3.8" fill="#eef3fc" stroke="#2232b8" stroke-width="1.1"/>
<circle cx="510.4" cy="284.75" r="3.8" fill="#eef3fc" stroke="#2232b8" stroke-width="1.1"/>
<circle cx="534.8" cy="284.75" r="3.8" fill="#eef3fc" stroke="#2232b8" stroke-width="1.1"/>
<circle cx="522.2" cy="289.95" r="3.8" fill="#eef3fc" stroke="#2232b8" stroke-width="1.1"/>
<circle cx="547.4" cy="289.95" r="3.8" fill="#eef3fc" stroke="#2232b8" stroke-width="1.1"/>
<circle cx="510.4" cy="297.1" r="3.8" fill="#eef3fc" stroke="#2232b8" stroke-width="1.1"/>
<circle cx="534.8" cy="297.1" r="3.8" fill="#eef3fc" stroke="#2232b8" stroke-width="1.1"/>
<circle cx="522.2" cy="302.3" r="3.8" fill="#eef3fc" stroke="#2232b8" stroke-width="1.1"/>
<circle cx="547.4" cy="302.3" r="3.8" fill="#eef3fc" stroke="#2232b8" stroke-width="1.1"/>
<circle cx="510.4" cy="309.45" r="3.8" fill="#eef3fc" stroke="#2232b8" stroke-width="1.1"/>
<circle cx="534.8" cy="309.45" r="3.8" fill="#eef3fc" stroke="#2232b8" stroke-width="1.1"/>
<circle cx="522.2" cy="314.65" r="3.8" fill="#eef3fc" stroke="#2232b8" stroke-width="1.1"/>
<circle cx="547.4" cy="314.65" r="3.8" fill="#eef3fc" stroke="#2232b8" stroke-width="1.1"/>
<circle cx="510.4" cy="321.8" r="3.8" fill="#eef3fc" stroke="#2232b8" stroke-width="1.1"/>
<circle cx="534.8" cy="321.8" r="3.8" fill="#eef3fc" stroke="#2232b8" stroke-width="1.1"/>
<circle cx="522.2" cy="327" r="3.8" fill="#eef3fc" stroke="#2232b8" stroke-width="1.1"/>
<circle cx="547.4" cy="327" r="3.8" fill="#eef3fc" stroke="#2232b8" stroke-width="1.1"/>
<circle cx="510.4" cy="334.15" r="3.8" fill="#eef3fc" stroke="#2232b8" stroke-width="1.1"/>
<circle cx="534.8" cy="334.15" r="3.8" fill="#eef3fc" stroke="#2232b8" stroke-width="1.1"/>
<circle cx="522.2" cy="339.35" r="3.8" fill="#eef3fc" stroke="#2232b8" stroke-width="1.1"/>
<circle cx="547.4" cy="339.35" r="3.8" fill="#eef3fc" stroke="#2232b8" stroke-width="1.1"/>
<circle cx="510.4" cy="346.5" r="3.8" fill="#eef3fc" stroke="#2232b8" stroke-width="1.1"/>
<circle cx="534.8" cy="346.5" r="3.8" fill="#eef3fc" stroke="#2232b8" stroke-width="1.1"/>
<circle cx="522.2" cy="351.7" r="3.8" fill="#eef3fc" stroke="#2232b8" stroke-width="1.1"/>
<circle cx="547.4" cy="351.7" r="3.8" fill="#eef3fc" stroke="#2232b8" stroke-width="1.1"/>
<circle cx="510.4" cy="358.85" r="3.8" fill="#eef3fc" stroke="#2232b8" stroke-width="1.1"/>
<circle cx="534.8" cy="358.85" r="3.8" fill="#eef3fc" stroke="#2232b8" stroke-width="1.1"/>
<circle cx="522.2" cy="364.05" r="3.8" fill="#eef3fc" stroke="#2232b8" stroke-width="1.1"/>
<circle cx="547.4" cy="364.05" r="3.8" fill="#eef3fc" stroke="#2232b8" stroke-width="1.1"/>
<path d="M528.4 219.4L553.3 268.2H540.7V337.9H516.3V268.2H504.4Z" fill="url(#pw)"/>
<path d="M341 360H623V392.5H316V381.5H341Z" fill="#4a86d8"/>
<rect x="284" y="93.5" width="304.5" height="47.5" fill="#fff" stroke="#000" stroke-width="3"/>
<text transform="translate(350.79 115.61) scale(0.9475 0.927)" font-size="20" fill="#000">バソプレッシン</text>
<text transform="translate(482.34 116.13) scale(1.0119 0.9338)" font-size="20" fill="#000">(ADH)</text>
<text transform="translate(537.28 115.85) scale(0.9755 0.881)" font-size="20" fill="#000">の</text>
<text transform="translate(375.25 134.4) scale(0.6945 0.6305)" font-size="20" fill="#000">生成、内分泌、血中濃度</text>
<rect x="337.25" y="161" width="237" height="55.75" fill="none" stroke="#f9330a" stroke-width="3"/>
<path d="M316 380.2H339.5V341.1H624.4V393.5H316" fill="none" stroke="#fbda1c" stroke-width="3.2"/>
<path d="M344.5 258V216C344.5 190 365 172 450 170.5C535 172 565 190 565 216V256C565 267 568 270 580 270.5L600 271.5C610 272.5 612.5 276 612.5 285V322C612.5 330 615 333 622 333.5C628 334 630 336 630 343V388C630 394 627 397 620 397.3L338 397.5C331 397.3 329 395 329 389V284C329 277 330 273 336 271.5C343 270 344.5 267 344.5 258Z" fill="none" stroke="#000" stroke-width="2"/>
<rect x="321.75" y="308.5" width="14.75" height="30.5" fill="#fff" stroke="#000" stroke-width="2"/>
<text transform="translate(322.3 322.14) scale(0.6645 0.7255)" font-size="20" fill="#000">腎</text>
<text transform="translate(323.11 336.07) scale(0.6085 0.7055)" font-size="20" fill="#000">臓</text>
<rect x="414" y="273.5" width="47.5" height="28.75" fill="#fff" stroke="#000" stroke-width="3"/>
<text transform="translate(426.87 286.09) scale(0.5684 0.5446)" font-size="20" fill="#000">Na</text>
<text transform="translate(441.73 285.41) scale(0.5866 0.5723)" font-size="20" fill="#000">+</text>
<text transform="translate(419.27 298.29) scale(0.5985 0.594)" font-size="20" fill="#000">ポンプ</text>
<rect x="467.25" y="273.25" width="135" height="29" fill="#fbfbfb" stroke="#1428dc" stroke-width="3"/>
<text transform="translate(487.03 294.55) scale(0.8105 0.808)" font-size="20" fill="#000">水チャンネル</text>
<text transform="translate(403.65 199.74) scale(1.038 0.964)" font-size="20" fill="#5b7aa8">血漿浸透圧</text>
<text transform="translate(397.34 382.31) scale(1.0325 1.0415)" font-size="20" fill="#14213f">尿浸透圧</text>
<text transform="translate(526.83 382.37) scale(1.04 1.0745)" font-size="20" fill="#14213f">尿量</text>
<text transform="translate(494.86 331.65) scale(1.171 1.295)" font-size="20" fill="#000">再吸収</text>
<g transform="translate(0 0)" stroke="#ee3a1c" stroke-width=".85" stroke-linecap="round" stroke-linejoin="round"><path d="M354.1 151.5C352.5 154 351.5 158 351.9 160.7C352 163 352.6 164.5 357 168.1C360 170 365 171.5 369.3 171.5C371 170.5 372 169 371.9 168.1C372 165 371.5 160 370.4 156.7C370 154.500 369.5 153 369.3 152.600L365.200 151.200L358.200 150.700Z" fill="#fff"/><path d="M354.1 151.500L357.500 150.900L357.800 153.800M358.200 150.800L358.500 148.200L364.800 148L364 150.800L360 153.200M365.200 152.200L369.600 152M360.700 152.600L369.300 171.500M357.500 152.500C357 157 357.500 160 356.300 163.700M362.500 156l5 1.500" fill="none"/></g>
<g transform="translate(0 0)"><ellipse cx="221" cy="388" rx="9" ry="2.2" fill="#d9d9d9"/><ellipse cx="228.5" cy="371.5" rx="4" ry="7.5" transform="rotate(-25 228.5 371.5)" fill="#ecd3d3" stroke="#444" stroke-width=".7"/><path d="M232 379c3-3 12-3 14 1c0 4-4 6-8 6z" fill="#bfe3f5" stroke="#444" stroke-width=".6"/><path d="M232.5 382l10 1.5l-1 7h-11z" fill="#6ec3ee"/></g>
<path d="M589.5 112.75H709.4V286.5H644" fill="none" stroke="#f9330a" stroke-width="20.5" stroke-linejoin="round"/>
<path d="M605 286.4L645 266.2V307Z" fill="#f9330a"/>
<path d="M632.75 274.25h8v8.5h8.5v8h-8.5v8.5h-8v-8.5h-8.5v-8h8.5Z" fill="#fff"/>
<path d="M231.25 227V115.3H263" fill="none" stroke="#f9330a" stroke-width="7.5" stroke-linejoin="round"/>
<path d="M279 115.6L261 107.3V124Z" fill="#f9330a"/>
<path d="M265.6 112.25h1.8v2.35h2.35v1.8h-2.35v2.35h-1.8v-2.35h-2.35v-1.8h2.35Z" fill="#fff"/>
<rect x="256" y="160.3" width="48" height="43.3" fill="#fff" rx="6.5" stroke="#000" stroke-width="1.7"/>
<text transform="translate(264.53 187.51) scale(0.815 0.759)" font-size="20" fill="#000">発汗</text>
<polygon points="269.2,148 271.73,152.2 276.25,150.29 275.83,155.18 280.61,156.29 277.4,160 280.61,163.71 275.83,164.82 276.25,169.71 271.73,167.8 269.2,172 266.67,167.8 262.15,169.71 262.57,164.82 257.79,163.71 261,160 257.79,156.29 262.57,155.18 262.15,150.29 266.67,152.2" fill="#fff" stroke="#f9330a" stroke-width="1.1"/>
<text transform="translate(266.42 165) scale(0.5103 0.7268)" font-size="20" fill="#000">1</text>
<circle cx="260.4" cy="193" r="3.7" fill="none" stroke="#1428ea" stroke-width="1"/>
<circle cx="272.5" cy="193" r="3.7" fill="none" stroke="#1428ea" stroke-width="1"/>
<circle cx="285" cy="193" r="3.7" fill="none" stroke="#1428ea" stroke-width="1"/>
<circle cx="297" cy="193" r="3.7" fill="none" stroke="#1428ea" stroke-width="1"/>
<circle cx="309.6" cy="193" r="3.7" fill="none" stroke="#1428ea" stroke-width="1"/>
<circle cx="322" cy="193" r="3.7" fill="none" stroke="#1428ea" stroke-width="1"/>
<circle cx="333.5" cy="193" r="3.7" fill="none" stroke="#1428ea" stroke-width="1"/>
<path d="M250 193H336.5" fill="none" stroke="#1428ea" stroke-width="2.2"/>
<path d="M241.8 193L249.8 188.9L253 193L249.8 197.1Z" fill="#1428ea"/>
<path d="M318 242C326 236 331 222 331.5 197" fill="none" stroke="#f9330a" stroke-width="1.5"/>
<path d="M318 246.5C380 246 420 231 511 229.5" fill="none" stroke="#14249c" stroke-width="1.9"/>
<rect x="215.25" y="228.5" width="101.5" height="32" fill="#fff" stroke="#1428dc" stroke-width="3"/>
<text transform="translate(231.88 252.32) scale(0.9355 0.879)" font-size="20" fill="#2a34b0">逆の方向</text>
<g transform="translate(0 0)" fill="#4a86d8"><circle cx="265" cy="375.2" r="3.7" fill="#4a86d8"/><circle cx="275.8" cy="375.2" r="3.7" fill="#4a86d8"/><circle cx="287" cy="375.2" r="3.7" fill="#4a86d8"/><circle cx="298.5" cy="375.2" r="3.7" fill="#4a86d8"/><circle cx="309.6" cy="375.2" r="3.7" fill="#4a86d8"/><circle cx="271" cy="386.3" r="3.7" fill="#4a86d8"/><circle cx="282" cy="386.3" r="3.7" fill="#4a86d8"/><circle cx="293.5" cy="386.3" r="3.7" fill="#4a86d8"/><circle cx="305" cy="386.3" r="3.7" fill="#4a86d8"/><circle cx="316.5" cy="386.3" r="3.7" fill="#4a86d8"/><path d="M261.5 380.8l7-4.5v1.7h30.5v6h-30.5v1.5z"/></g>
<path d="M386.75 181.1L394.4 193.3H390.27V205.5H383.23V193.3H379.1Z" fill="#fff" stroke="#f9330a" stroke-width="2" stroke-linejoin="miter"/>
<text transform="translate(368.56 211.19) scale(0.644 0.644)" font-size="20" fill="#5b7aa8" stroke="#5b7aa8" stroke-width="0.4">①</text>
<text transform="translate(310.54 109.64) scale(0.676 0.676)" font-size="20" fill="#222" stroke="#222" stroke-width="0.4">②</text><text transform="translate(323.78 109.1) scale(0.569 0.491)" font-size="20" fill="#222" stroke="#222" stroke-width="0.4">-1</text>
<path d="M341.4 102.82L348.95 115.34H344.88V127.85H337.92V115.34H333.85Z" fill="#fff" stroke="#f9330a" stroke-width="1.9" stroke-linejoin="miter"/>
<text transform="translate(470.54 269.64) scale(0.676 0.676)" font-size="20" fill="#222" stroke="#222" stroke-width="0.4">②</text><text transform="translate(483.79 269.1) scale(0.5585 0.4825)" font-size="20" fill="#222" stroke="#222" stroke-width="0.4">-2</text>
<path d="M479 277.82L484.95 287.84H481.74V297.85H476.26V287.84H473.05Z" fill="#fff" stroke="#f9330a" stroke-width="1.9" stroke-linejoin="miter"/>
<text transform="matrix(0 0.5525 -0.5635 0 466.77 310.82)" font-size="20" fill="#222" stroke="#222" stroke-width="0.36">②</text>
<text transform="matrix(0 0.5315 -0.3955 0 467.6 322.01)" font-size="20" fill="#222" stroke="#222" stroke-width="0.36">-3</text>
<path d="M485.65 310.02L491.45 320.78H488.32V331.55H482.98V320.78H479.85Z" fill="#fff" stroke="#f9330a" stroke-width="1.9" stroke-linejoin="miter"/>
</g>
<g transform="translate(0 665.2)"><rect x="338" y="176" width="237" height="41" fill="#4a86d8"/>
<circle cx="426" cy="220" r="3.3" fill="url(#pd)"/>
<circle cx="450" cy="220" r="3.3" fill="url(#pd)"/>
<circle cx="426" cy="231.2" r="3.3" fill="url(#pd)"/>
<circle cx="450" cy="231.2" r="3.3" fill="url(#pd)"/>
<circle cx="426" cy="242.4" r="3.3" fill="url(#pd)"/>
<circle cx="450" cy="242.4" r="3.3" fill="url(#pd)"/>
<circle cx="426" cy="253.6" r="3.3" fill="url(#pd)"/>
<circle cx="450" cy="253.6" r="3.3" fill="url(#pd)"/>
<circle cx="426" cy="264.8" r="3.3" fill="url(#pd)"/>
<circle cx="450" cy="264.8" r="3.3" fill="url(#pd)"/>
<circle cx="426" cy="276" r="3.3" fill="url(#pd)"/>
<circle cx="450" cy="276" r="3.3" fill="url(#pd)"/>
<circle cx="426" cy="287.2" r="3.3" fill="url(#pd)"/>
<circle cx="450" cy="287.2" r="3.3" fill="url(#pd)"/>
<circle cx="426" cy="298.4" r="3.3" fill="url(#pd)"/>
<circle cx="450" cy="298.4" r="3.3" fill="url(#pd)"/>
<circle cx="426" cy="309.6" r="3.3" fill="url(#pd)"/>
<circle cx="450" cy="309.6" r="3.3" fill="url(#pd)"/>
<circle cx="426" cy="320.8" r="3.3" fill="url(#pd)"/>
<circle cx="450" cy="320.8" r="3.3" fill="url(#pd)"/>
<circle cx="426" cy="332" r="3.3" fill="url(#pd)"/>
<circle cx="450" cy="332" r="3.3" fill="url(#pd)"/>
<circle cx="426" cy="343.2" r="3.3" fill="url(#pd)"/>
<circle cx="450" cy="343.2" r="3.3" fill="url(#pd)"/>
<circle cx="426" cy="354.4" r="3.3" fill="url(#pd)"/>
<circle cx="450" cy="354.4" r="3.3" fill="url(#pd)"/>
<circle cx="437.8" cy="224" r="3.3" fill="url(#pd)"/>
<circle cx="437.8" cy="235.4" r="3.3" fill="url(#pd)"/>
<circle cx="437.8" cy="345" r="3.3" fill="url(#pd)"/>
<circle cx="437.8" cy="356" r="3.3" fill="url(#pd)"/>
<path d="M438.3 237.5L452.5 264H443.3V331H433.3V264H423.8Z" fill="url(#pn)"/>
<circle cx="510.4" cy="223" r="3.8" fill="#eef3fc" stroke="#2232b8" stroke-width="1.1"/>
<circle cx="534.8" cy="223" r="3.8" fill="#eef3fc" stroke="#2232b8" stroke-width="1.1"/>
<circle cx="522.2" cy="228.2" r="3.8" fill="#eef3fc" stroke="#2232b8" stroke-width="1.1"/>
<circle cx="547.4" cy="228.2" r="3.8" fill="#eef3fc" stroke="#2232b8" stroke-width="1.1"/>
<circle cx="510.4" cy="235.35" r="3.8" fill="#eef3fc" stroke="#2232b8" stroke-width="1.1"/>
<circle cx="534.8" cy="235.35" r="3.8" fill="#eef3fc" stroke="#2232b8" stroke-width="1.1"/>
<circle cx="522.2" cy="240.55" r="3.8" fill="#eef3fc" stroke="#2232b8" stroke-width="1.1"/>
<circle cx="547.4" cy="240.55" r="3.8" fill="#eef3fc" stroke="#2232b8" stroke-width="1.1"/>
<circle cx="510.4" cy="247.7" r="3.8" fill="#eef3fc" stroke="#2232b8" stroke-width="1.1"/>
<circle cx="534.8" cy="247.7" r="3.8" fill="#eef3fc" stroke="#2232b8" stroke-width="1.1"/>
<circle cx="522.2" cy="252.9" r="3.8" fill="#eef3fc" stroke="#2232b8" stroke-width="1.1"/>
<circle cx="547.4" cy="252.9" r="3.8" fill="#eef3fc" stroke="#2232b8" stroke-width="1.1"/>
<circle cx="510.4" cy="260.05" r="3.8" fill="#eef3fc" stroke="#2232b8" stroke-width="1.1"/>
<circle cx="534.8" cy="260.05" r="3.8" fill="#eef3fc" stroke="#2232b8" stroke-width="1.1"/>
<circle cx="522.2" cy="265.25" r="3.8" fill="#eef3fc" stroke="#2232b8" stroke-width="1.1"/>
<circle cx="547.4" cy="265.25" r="3.8" fill="#eef3fc" stroke="#2232b8" stroke-width="1.1"/>
<circle cx="510.4" cy="272.4" r="3.8" fill="#eef3fc" stroke="#2232b8" stroke-width="1.1"/>
<circle cx="534.8" cy="272.4" r="3.8" fill="#eef3fc" stroke="#2232b8" stroke-width="1.1"/>
<circle cx="522.2" cy="277.6" r="3.8" fill="#eef3fc" stroke="#2232b8" stroke-width="1.1"/>
<circle cx="547.4" cy="277.6" r="3.8" fill="#eef3fc" stroke="#2232b8" stroke-width="1.1"/>
<circle cx="510.4" cy="284.75" r="3.8" fill="#eef3fc" stroke="#2232b8" stroke-width="1.1"/>
<circle cx="534.8" cy="284.75" r="3.8" fill="#eef3fc" stroke="#2232b8" stroke-width="1.1"/>
<circle cx="522.2" cy="289.95" r="3.8" fill="#eef3fc" stroke="#2232b8" stroke-width="1.1"/>
<circle cx="547.4" cy="289.95" r="3.8" fill="#eef3fc" stroke="#2232b8" stroke-width="1.1"/>
<circle cx="510.4" cy="297.1" r="3.8" fill="#eef3fc" stroke="#2232b8" stroke-width="1.1"/>
<circle cx="534.8" cy="297.1" r="3.8" fill="#eef3fc" stroke="#2232b8" stroke-width="1.1"/>
<circle cx="522.2" cy="302.3" r="3.8" fill="#eef3fc" stroke="#2232b8" stroke-width="1.1"/>
<circle cx="547.4" cy="302.3" r="3.8" fill="#eef3fc" stroke="#2232b8" stroke-width="1.1"/>
<circle cx="510.4" cy="309.45" r="3.8" fill="#eef3fc" stroke="#2232b8" stroke-width="1.1"/>
<circle cx="534.8" cy="309.45" r="3.8" fill="#eef3fc" stroke="#2232b8" stroke-width="1.1"/>
<circle cx="522.2" cy="314.65" r="3.8" fill="#eef3fc" stroke="#2232b8" stroke-width="1.1"/>
<circle cx="547.4" cy="314.65" r="3.8" fill="#eef3fc" stroke="#2232b8" stroke-width="1.1"/>
<circle cx="510.4" cy="321.8" r="3.8" fill="#eef3fc" stroke="#2232b8" stroke-width="1.1"/>
<circle cx="534.8" cy="321.8" r="3.8" fill="#eef3fc" stroke="#2232b8" stroke-width="1.1"/>
<circle cx="522.2" cy="327" r="3.8" fill="#eef3fc" stroke="#2232b8" stroke-width="1.1"/>
<circle cx="547.4" cy="327" r="3.8" fill="#eef3fc" stroke="#2232b8" stroke-width="1.1"/>
<circle cx="510.4" cy="334.15" r="3.8" fill="#eef3fc" stroke="#2232b8" stroke-width="1.1"/>
<circle cx="534.8" cy="334.15" r="3.8" fill="#eef3fc" stroke="#2232b8" stroke-width="1.1"/>
<circle cx="522.2" cy="339.35" r="3.8" fill="#eef3fc" stroke="#2232b8" stroke-width="1.1"/>
<circle cx="547.4" cy="339.35" r="3.8" fill="#eef3fc" stroke="#2232b8" stroke-width="1.1"/>
<circle cx="510.4" cy="346.5" r="3.8" fill="#eef3fc" stroke="#2232b8" stroke-width="1.1"/>
<circle cx="534.8" cy="346.5" r="3.8" fill="#eef3fc" stroke="#2232b8" stroke-width="1.1"/>
<circle cx="522.2" cy="351.7" r="3.8" fill="#eef3fc" stroke="#2232b8" stroke-width="1.1"/>
<circle cx="547.4" cy="351.7" r="3.8" fill="#eef3fc" stroke="#2232b8" stroke-width="1.1"/>
<circle cx="510.4" cy="358.85" r="3.8" fill="#eef3fc" stroke="#2232b8" stroke-width="1.1"/>
<circle cx="534.8" cy="358.85" r="3.8" fill="#eef3fc" stroke="#2232b8" stroke-width="1.1"/>
<circle cx="522.2" cy="364.05" r="3.8" fill="#eef3fc" stroke="#2232b8" stroke-width="1.1"/>
<circle cx="547.4" cy="364.05" r="3.8" fill="#eef3fc" stroke="#2232b8" stroke-width="1.1"/>
<path d="M528.4 219.4L553.3 268.2H540.7V337.9H516.3V268.2H504.4Z" fill="url(#pw)"/>
<path d="M341 373H623V392.5H316V381.5H341Z" fill="#1f3864"/>
<rect x="284" y="93.5" width="304.5" height="47.5" fill="#fff" stroke="#000" stroke-width="3"/>
<text transform="translate(350.79 115.61) scale(0.9475 0.927)" font-size="20" fill="#000">バソプレッシン</text>
<text transform="translate(482.34 116.13) scale(1.0119 0.9338)" font-size="20" fill="#000">(ADH)</text>
<text transform="translate(537.28 115.85) scale(0.9755 0.881)" font-size="20" fill="#000">の</text>
<text transform="translate(375.25 134.4) scale(0.6945 0.6305)" font-size="20" fill="#000">生成、内分泌、血中濃度</text>
<rect x="337.25" y="161" width="237" height="55.75" fill="none" stroke="#f9330a" stroke-width="3"/>
<path d="M316 380.2H339.5V341.1H624.4V393.5H316" fill="none" stroke="#fbda1c" stroke-width="3.2"/>
<path d="M344.5 258V216C344.5 190 365 172 450 170.5C535 172 565 190 565 216V256C565 267 568 270 580 270.5L600 271.5C610 272.5 612.5 276 612.5 285V322C612.5 330 615 333 622 333.5C628 334 630 336 630 343V388C630 394 627 397 620 397.3L338 397.5C331 397.3 329 395 329 389V284C329 277 330 273 336 271.5C343 270 344.5 267 344.5 258Z" fill="none" stroke="#000" stroke-width="2"/>
<rect x="321.75" y="308.5" width="14.75" height="30.5" fill="#fff" stroke="#000" stroke-width="2"/>
<text transform="translate(322.3 322.14) scale(0.6645 0.7255)" font-size="20" fill="#000">腎</text>
<text transform="translate(323.11 336.07) scale(0.6085 0.7055)" font-size="20" fill="#000">臓</text>
<rect x="414" y="273.5" width="47.5" height="28.75" fill="#fff" stroke="#000" stroke-width="3"/>
<text transform="translate(426.87 286.09) scale(0.5684 0.5446)" font-size="20" fill="#000">Na</text>
<text transform="translate(441.73 285.41) scale(0.5866 0.5723)" font-size="20" fill="#000">+</text>
<text transform="translate(419.27 298.29) scale(0.5985 0.594)" font-size="20" fill="#000">ポンプ</text>
<rect x="467.25" y="273.25" width="135" height="29" fill="#fbfbfb" stroke="#1428dc" stroke-width="3"/>
<text transform="translate(487.03 294.55) scale(0.8105 0.808)" font-size="20" fill="#000">水チャンネル</text>
<text transform="translate(403.65 199.74) scale(1.038 0.964)" font-size="20" fill="#14213f">血漿浸透圧</text>
<text transform="translate(397.34 382.31) scale(1.0325 1.0415)" font-size="20" fill="#8a9bb5">尿浸透圧</text>
<text transform="translate(526.83 382.37) scale(1.04 1.0745)" font-size="20" fill="#8a9bb5">尿量</text>
<text transform="translate(494.86 331.65) scale(1.171 1.295)" font-size="20" fill="#000">再吸収</text>
<g transform="translate(0 0)" stroke="#ee3a1c" stroke-width=".85" stroke-linecap="round" stroke-linejoin="round"><path d="M354.1 151.5C352.5 154 351.5 158 351.9 160.7C352 163 352.6 164.5 357 168.1C360 170 365 171.5 369.3 171.5C371 170.5 372 169 371.9 168.1C372 165 371.5 160 370.4 156.7C370 154.500 369.5 153 369.3 152.600L365.200 151.200L358.200 150.700Z" fill="#fff"/><path d="M354.1 151.500L357.500 150.900L357.800 153.800M358.200 150.800L358.500 148.200L364.800 148L364 150.800L360 153.200M365.200 152.200L369.600 152M360.700 152.600L369.300 171.500M357.500 152.500C357 157 357.500 160 356.300 163.700M362.500 156l5 1.500" fill="none"/></g>
<g transform="translate(0 0)"><ellipse cx="221" cy="388" rx="9" ry="2.2" fill="#d9d9d9"/><ellipse cx="228.5" cy="371.5" rx="4" ry="7.5" transform="rotate(-25 228.5 371.5)" fill="#ecd3d3" stroke="#444" stroke-width=".7"/><path d="M232 379c3-3 12-3 14 1c0 4-4 6-8 6z" fill="#bfe3f5" stroke="#444" stroke-width=".6"/><path d="M232.5 382l10 1.5l-1 7h-11z" fill="#6ec3ee"/></g>
<path d="M589.5 112.75H709.4V286.5H644" fill="none" stroke="#f9330a" stroke-width="20.5" stroke-linejoin="round"/>
<path d="M605 286.4L645 266.2V307Z" fill="#f9330a"/>
<path d="M632.75 274.25h8v8.5h8.5v8h-8.5v8.5h-8v-8.5h-8.5v-8h8.5Z" fill="#fff"/>
<path d="M231.25 227V115.3H263" fill="none" stroke="#f9330a" stroke-width="7.5" stroke-linejoin="round"/>
<path d="M279 115.6L261 107.3V124Z" fill="#f9330a"/>
<path d="M265.6 112.25h1.8v2.35h2.35v1.8h-2.35v2.35h-1.8v-2.35h-2.35v-1.8h2.35Z" fill="#fff"/>
<rect x="256" y="160.3" width="48" height="43.3" fill="#fff" rx="6.5" stroke="#000" stroke-width="1.7"/>
<text transform="translate(264.53 187.51) scale(0.815 0.759)" font-size="20" fill="#000">発汗</text>
<polygon points="269.2,148 271.73,152.2 276.25,150.29 275.83,155.18 280.61,156.29 277.4,160 280.61,163.71 275.83,164.82 276.25,169.71 271.73,167.8 269.2,172 266.67,167.8 262.15,169.71 262.57,164.82 257.79,163.71 261,160 257.79,156.29 262.57,155.18 262.15,150.29 266.67,152.2" fill="#fff" stroke="#f9330a" stroke-width="1.1"/>
<text transform="translate(266.42 165) scale(0.5103 0.7268)" font-size="20" fill="#000">1</text>
<circle cx="260.4" cy="193" r="3.7" fill="none" stroke="#1428ea" stroke-width="1"/>
<circle cx="272.5" cy="193" r="3.7" fill="none" stroke="#1428ea" stroke-width="1"/>
<circle cx="285" cy="193" r="3.7" fill="none" stroke="#1428ea" stroke-width="1"/>
<circle cx="297" cy="193" r="3.7" fill="none" stroke="#1428ea" stroke-width="1"/>
<circle cx="309.6" cy="193" r="3.7" fill="none" stroke="#1428ea" stroke-width="1"/>
<circle cx="322" cy="193" r="3.7" fill="none" stroke="#1428ea" stroke-width="1"/>
<circle cx="333.5" cy="193" r="3.7" fill="none" stroke="#1428ea" stroke-width="1"/>
<path d="M250 193H336.5" fill="none" stroke="#1428ea" stroke-width="2.2"/>
<path d="M241.8 193L249.8 188.9L253 193L249.8 197.1Z" fill="#1428ea"/>
<path d="M318 242C326 236 331 222 331.5 197" fill="none" stroke="#f9330a" stroke-width="1.5"/>
<path d="M318 246.5C380 246 420 231 511 229.5" fill="none" stroke="#14249c" stroke-width="1.9"/>
<rect x="215.25" y="228.5" width="101.5" height="32" fill="#fff" stroke="#1428dc" stroke-width="3"/>
<text transform="translate(231.88 252.32) scale(0.9355 0.879)" font-size="20" fill="#2a34b0">逆の方向</text>
<g transform="translate(0 0)" fill="#1f3864"><path d="M264 383h2.8v8h-2.8zM270.5 387l6-4v8zM273 385.8h37v2.4h-37z"/><circle cx="286.5" cy="387" r="3.3" fill="#1f3864"/><circle cx="298.5" cy="387" r="3.3" fill="#1f3864"/><circle cx="310.8" cy="387" r="3.3" fill="#1f3864"/></g>
<path d="M387.75 182.28L394.62 194.24H390.91V206.2H384.59V194.24H380.88Z" fill="#fff" stroke="#f9330a" stroke-width="1.6" stroke-dasharray="2 1.3" stroke-linejoin="miter"/>
<text transform="translate(368.86 211.89) scale(0.644 0.644)" font-size="20" fill="#14213f" stroke="#14213f" stroke-width="0.4">①</text>
<text transform="translate(393.56 211.49) scale(0.644 0.644)" font-size="20" fill="#14213f" stroke="#14213f" stroke-width="0.4">③</text>
<text transform="translate(360.74 372.64) scale(0.676 0.676)" font-size="20" fill="#222" stroke="#222" stroke-width="0.4">③</text>
<path d="M385.75 359.1L393.9 371.55H389.5V384H382V371.55H377.6Z" fill="#fff" stroke="#f9330a" stroke-width="2" stroke-linejoin="miter"/>
<text transform="translate(489.54 372.64) scale(0.676 0.676)" font-size="20" fill="#222" stroke="#222" stroke-width="0.4">③</text>
<path d="M514 382.56L520.01 369.73H516.76V356.9H511.24V369.73H507.99Z" fill="#fff" stroke="#1428ea" stroke-width="1.8" stroke-linejoin="miter"/>
<text transform="translate(310.54 109.64) scale(0.676 0.676)" font-size="20" fill="#222" stroke="#222" stroke-width="0.4">②</text><text transform="translate(323.78 109.1) scale(0.569 0.491)" font-size="20" fill="#222" stroke="#222" stroke-width="0.4">-1</text>
<path d="M341.4 102.82L348.95 115.34H344.88V127.85H337.92V115.34H333.85Z" fill="#fff" stroke="#f9330a" stroke-width="1.9" stroke-linejoin="miter"/>
<text transform="translate(470.54 269.64) scale(0.676 0.676)" font-size="20" fill="#222" stroke="#222" stroke-width="0.4">②</text><text transform="translate(483.79 269.1) scale(0.5585 0.4825)" font-size="20" fill="#222" stroke="#222" stroke-width="0.4">-2</text>
<path d="M479 277.82L484.95 287.84H481.74V297.85H476.26V287.84H473.05Z" fill="#fff" stroke="#f9330a" stroke-width="1.9" stroke-linejoin="miter"/>
<text transform="matrix(0 0.5525 -0.5635 0 466.77 310.82)" font-size="20" fill="#222" stroke="#222" stroke-width="0.36">②</text>
<text transform="matrix(0 0.5315 -0.3955 0 467.6 322.01)" font-size="20" fill="#222" stroke="#222" stroke-width="0.36">-3</text>
<path d="M485.65 310.02L491.45 320.78H488.32V331.55H482.98V320.78H479.85Z" fill="#fff" stroke="#f9330a" stroke-width="1.9" stroke-linejoin="miter"/>
</g>
<g transform="translate(1120 332.5)"><rect x="338" y="176" width="237" height="41" fill="#bccce9"/>
<circle cx="426" cy="220" r="3.3" fill="url(#pd)"/>
<circle cx="450" cy="220" r="3.3" fill="url(#pd)"/>
<circle cx="426" cy="231.2" r="3.3" fill="url(#pd)"/>
<circle cx="450" cy="231.2" r="3.3" fill="url(#pd)"/>
<circle cx="426" cy="242.4" r="3.3" fill="url(#pd)"/>
<circle cx="450" cy="242.4" r="3.3" fill="url(#pd)"/>
<circle cx="426" cy="253.6" r="3.3" fill="url(#pd)"/>
<circle cx="450" cy="253.6" r="3.3" fill="url(#pd)"/>
<circle cx="426" cy="264.8" r="3.3" fill="url(#pd)"/>
<circle cx="450" cy="264.8" r="3.3" fill="url(#pd)"/>
<circle cx="426" cy="276" r="3.3" fill="url(#pd)"/>
<circle cx="450" cy="276" r="3.3" fill="url(#pd)"/>
<circle cx="426" cy="287.2" r="3.3" fill="url(#pd)"/>
<circle cx="450" cy="287.2" r="3.3" fill="url(#pd)"/>
<circle cx="426" cy="298.4" r="3.3" fill="url(#pd)"/>
<circle cx="450" cy="298.4" r="3.3" fill="url(#pd)"/>
<circle cx="426" cy="309.6" r="3.3" fill="url(#pd)"/>
<circle cx="450" cy="309.6" r="3.3" fill="url(#pd)"/>
<circle cx="426" cy="320.8" r="3.3" fill="url(#pd)"/>
<circle cx="450" cy="320.8" r="3.3" fill="url(#pd)"/>
<circle cx="426" cy="332" r="3.3" fill="url(#pd)"/>
<circle cx="450" cy="332" r="3.3" fill="url(#pd)"/>
<circle cx="426" cy="343.2" r="3.3" fill="url(#pd)"/>
<circle cx="450" cy="343.2" r="3.3" fill="url(#pd)"/>
<circle cx="426" cy="354.4" r="3.3" fill="url(#pd)"/>
<circle cx="450" cy="354.4" r="3.3" fill="url(#pd)"/>
<circle cx="437.8" cy="224" r="3.3" fill="url(#pd)"/>
<circle cx="437.8" cy="235.4" r="3.3" fill="url(#pd)"/>
<circle cx="437.8" cy="345" r="3.3" fill="url(#pd)"/>
<circle cx="437.8" cy="356" r="3.3" fill="url(#pd)"/>
<path d="M438.3 237.5L452.5 264H443.3V331H433.3V264H423.8Z" fill="url(#pn)"/>
<circle cx="524.3" cy="224.2" r="3.8" fill="#eef3fc" stroke="#2232b8" stroke-width="1.1"/>
<circle cx="536.3" cy="219.8" r="3.8" fill="#eef3fc" stroke="#2232b8" stroke-width="1.1"/>
<circle cx="524.3" cy="236.45" r="3.8" fill="#eef3fc" stroke="#2232b8" stroke-width="1.1"/>
<circle cx="536.3" cy="232.05" r="3.8" fill="#eef3fc" stroke="#2232b8" stroke-width="1.1"/>
<circle cx="524.3" cy="248.7" r="3.8" fill="#eef3fc" stroke="#2232b8" stroke-width="1.1"/>
<circle cx="536.3" cy="244.3" r="3.8" fill="#eef3fc" stroke="#2232b8" stroke-width="1.1"/>
<circle cx="524.3" cy="260.95" r="3.8" fill="#eef3fc" stroke="#2232b8" stroke-width="1.1"/>
<circle cx="536.3" cy="256.55" r="3.8" fill="#eef3fc" stroke="#2232b8" stroke-width="1.1"/>
<circle cx="524.3" cy="273.2" r="3.8" fill="#eef3fc" stroke="#2232b8" stroke-width="1.1"/>
<circle cx="536.3" cy="268.8" r="3.8" fill="#eef3fc" stroke="#2232b8" stroke-width="1.1"/>
<circle cx="524.3" cy="285.45" r="3.8" fill="#eef3fc" stroke="#2232b8" stroke-width="1.1"/>
<circle cx="536.3" cy="281.05" r="3.8" fill="#eef3fc" stroke="#2232b8" stroke-width="1.1"/>
<circle cx="524.3" cy="297.7" r="3.8" fill="#eef3fc" stroke="#2232b8" stroke-width="1.1"/>
<circle cx="536.3" cy="293.3" r="3.8" fill="#eef3fc" stroke="#2232b8" stroke-width="1.1"/>
<circle cx="524.3" cy="309.95" r="3.8" fill="#eef3fc" stroke="#2232b8" stroke-width="1.1"/>
<circle cx="536.3" cy="305.55" r="3.8" fill="#eef3fc" stroke="#2232b8" stroke-width="1.1"/>
<circle cx="524.3" cy="322.2" r="3.8" fill="#eef3fc" stroke="#2232b8" stroke-width="1.1"/>
<circle cx="536.3" cy="317.8" r="3.8" fill="#eef3fc" stroke="#2232b8" stroke-width="1.1"/>
<circle cx="524.3" cy="334.45" r="3.8" fill="#eef3fc" stroke="#2232b8" stroke-width="1.1"/>
<circle cx="536.3" cy="330.05" r="3.8" fill="#eef3fc" stroke="#2232b8" stroke-width="1.1"/>
<circle cx="524.3" cy="346.7" r="3.8" fill="#eef3fc" stroke="#2232b8" stroke-width="1.1"/>
<circle cx="536.3" cy="342.3" r="3.8" fill="#eef3fc" stroke="#2232b8" stroke-width="1.1"/>
<circle cx="524.3" cy="358.95" r="3.8" fill="#eef3fc" stroke="#2232b8" stroke-width="1.1"/>
<circle cx="536.3" cy="354.55" r="3.8" fill="#eef3fc" stroke="#2232b8" stroke-width="1.1"/>
<path d="M531 239.8L536.3 252.8H532.6V332H529.4V252.8H525.7Z" fill="#1428ea"/>
<path d="M341 360H623V392.5H316V381.5H341Z" fill="#4a86d8"/>
<rect x="284" y="93.5" width="304.5" height="47.5" fill="#fff" stroke="#000" stroke-width="3"/>
<text transform="translate(350.79 115.61) scale(0.9475 0.927)" font-size="20" fill="#000">バソプレッシン</text>
<text transform="translate(482.34 116.13) scale(1.0119 0.9338)" font-size="20" fill="#000">(ADH)</text>
<text transform="translate(537.28 115.85) scale(0.9755 0.881)" font-size="20" fill="#000">の</text>
<text transform="translate(375.25 134.4) scale(0.6945 0.6305)" font-size="20" fill="#000">生成、内分泌、血中濃度</text>
<rect x="337.25" y="161" width="237" height="55.75" fill="none" stroke="#f9330a" stroke-width="3"/>
<path d="M316 380.2H339.5V341.1H624.4V393.5H316" fill="none" stroke="#fbda1c" stroke-width="3.2"/>
<path d="M344.5 258V216C344.5 190 365 172 450 170.5C535 172 565 190 565 216V256C565 267 568 270 580 270.5L600 271.5C610 272.5 612.5 276 612.5 285V322C612.5 330 615 333 622 333.5C628 334 630 336 630 343V388C630 394 627 397 620 397.3L338 397.5C331 397.3 329 395 329 389V284C329 277 330 273 336 271.5C343 270 344.5 267 344.5 258Z" fill="none" stroke="#000" stroke-width="2"/>
<rect x="321.75" y="308.5" width="14.75" height="30.5" fill="#fff" stroke="#000" stroke-width="2"/>
<text transform="translate(322.3 322.14) scale(0.6645 0.7255)" font-size="20" fill="#000">腎</text>
<text transform="translate(323.11 336.07) scale(0.6085 0.7055)" font-size="20" fill="#000">臓</text>
<rect x="414" y="273.5" width="47.5" height="28.75" fill="#fff" stroke="#000" stroke-width="3"/>
<text transform="translate(426.87 286.09) scale(0.5684 0.5446)" font-size="20" fill="#000">Na</text>
<text transform="translate(441.73 285.41) scale(0.5866 0.5723)" font-size="20" fill="#000">+</text>
<text transform="translate(419.27 298.29) scale(0.5985 0.594)" font-size="20" fill="#000">ポンプ</text>
<rect x="467.25" y="273.25" width="135" height="29" fill="#fbfbfb" stroke="#1428dc" stroke-width="3"/>
<text transform="translate(484.03 294.55) scale(0.8105 0.808)" font-size="20" fill="#000">水チャンネル</text>
<text transform="translate(414.95 199.74) scale(1.038 0.964)" font-size="20" fill="#14213f">血漿浸透圧</text>
<text transform="translate(375.34 382.31) scale(1.0325 1.0415)" font-size="20" fill="#14213f">尿浸透圧</text>
<text transform="translate(508.33 382.37) scale(1.04 1.0745)" font-size="20" fill="#14213f">尿量</text>
<text transform="translate(494.86 331.65) scale(1.171 1.295)" font-size="20" fill="#000">再吸収</text>
<g transform="translate(0 0)" stroke="#ee3a1c" stroke-width=".85" stroke-linecap="round" stroke-linejoin="round"><path d="M354.1 151.5C352.5 154 351.5 158 351.9 160.7C352 163 352.6 164.5 357 168.1C360 170 365 171.5 369.3 171.5C371 170.5 372 169 371.9 168.1C372 165 371.5 160 370.4 156.7C370 154.500 369.5 153 369.3 152.600L365.200 151.200L358.200 150.700Z" fill="#fff"/><path d="M354.1 151.500L357.500 150.900L357.800 153.800M358.200 150.800L358.500 148.200L364.800 148L364 150.800L360 153.200M365.200 152.200L369.600 152M360.700 152.600L369.300 171.500M357.500 152.500C357 157 357.500 160 356.300 163.700M362.500 156l5 1.500" fill="none"/></g>
<g transform="translate(0 0)"><ellipse cx="221" cy="388" rx="9" ry="2.2" fill="#d9d9d9"/><ellipse cx="228.5" cy="371.5" rx="4" ry="7.5" transform="rotate(-25 228.5 371.5)" fill="#ecd3d3" stroke="#444" stroke-width=".7"/><path d="M232 379c3-3 12-3 14 1c0 4-4 6-8 6z" fill="#bfe3f5" stroke="#444" stroke-width=".6"/><path d="M232.5 382l10 1.5l-1 7h-11z" fill="#6ec3ee"/></g>
<path d="M589.5 99.5H709V286.75H614" fill="none" stroke="#f9330a" stroke-width="2.3"/>
<path d="M605.5 286.8L616 281.6V291.9Z" fill="#f9330a"/>
<path d="M611.65 284.2h1.5v1.85h1.85v1.5h-1.85v1.85h-1.5v-1.85h-1.85v-1.5h1.85Z" fill="#fff"/>
<path d="M678 228V128.2H610" fill="none" stroke="#1428ea" stroke-width="8.5" stroke-linejoin="round"/>
<path d="M593 128.2L611 119.5V136.8Z" fill="#1428ea"/>
<rect x="603" y="127.2" width="7" height="2" fill="#fff"/>
<rect x="615" y="160.3" width="48.6" height="43.3" fill="#fff" rx="6.5" stroke="#000" stroke-width="1.7"/>
<text transform="translate(625.22 189.77) scale(0.7805 0.759)" font-size="20" fill="#000">飲水</text>
<g transform="translate(0 0)" fill="none" stroke="#000" stroke-width="1.2"><path d="M612.5 157.5h4.4v4.9h16v9l-10 3l-3.4-3.4l-2 4h-5z" fill="#fff" stroke="none"/><path d="M612 158l9.7 15.3M616.7 161.8h16.6M633.3 151.2v20l-10 3l-3.3-3.4M633.3 159.5h18"/><path d="M617.5 163.5h15" stroke="#1428dc"/></g>
<polygon points="650.8,148.2 653.33,152.2 657.74,150.45 657.43,155.18 662.02,156.35 659,160 662.02,163.65 657.43,164.82 657.74,169.55 653.33,167.8 650.8,171.8 648.27,167.8 643.86,169.55 644.17,164.82 639.58,163.65 642.6,160 639.58,156.35 644.17,155.18 643.86,150.45 648.27,152.2" fill="#fff" stroke="#f9330a" stroke-width="1.1"/>
<text transform="translate(648.02 165) scale(0.5103 0.7268)" font-size="20" fill="#000">1</text>
<circle cx="585.4" cy="168.8" r="3.7" fill="none" stroke="#1428ea" stroke-width="1"/>
<circle cx="598" cy="168.8" r="3.7" fill="none" stroke="#1428ea" stroke-width="1"/>
<circle cx="610" cy="168.8" r="3.7" fill="none" stroke="#1428ea" stroke-width="1"/>
<path d="M582 168.8H624" fill="none" stroke="#1428ea" stroke-width="2.2"/>
<path d="M575.8 168.8L583.8 164.7L587 168.8L583.8 172.9Z" fill="#1428ea"/>
<path d="M590 250C575 240 560 230 536 230.8" fill="none" stroke="#1428c8" stroke-width="2"/>
<path d="M590 250C578 240 580 225 590 205C596 192 600 185 601 175" fill="none" stroke="#1428c8" stroke-width="2"/>
<rect x="591.5" y="229.5" width="100.75" height="30" fill="#fff" stroke="#f9330a" stroke-width="3"/>
<text transform="translate(607.11 252.32) scale(0.9585 0.879)" font-size="20" fill="#ea2a15">同じ方向</text>
<g transform="translate(0 0)" fill="#4a86d8"><circle cx="265" cy="375.2" r="3.7" fill="#4a86d8"/><circle cx="275.8" cy="375.2" r="3.7" fill="#4a86d8"/><circle cx="287" cy="375.2" r="3.7" fill="#4a86d8"/><circle cx="298.5" cy="375.2" r="3.7" fill="#4a86d8"/><circle cx="309.6" cy="375.2" r="3.7" fill="#4a86d8"/><circle cx="271" cy="386.3" r="3.7" fill="#4a86d8"/><circle cx="282" cy="386.3" r="3.7" fill="#4a86d8"/><circle cx="293.5" cy="386.3" r="3.7" fill="#4a86d8"/><circle cx="305" cy="386.3" r="3.7" fill="#4a86d8"/><circle cx="316.5" cy="386.3" r="3.7" fill="#4a86d8"/><path d="M261.5 380.8l7-4.5v1.7h30.5v6h-30.5v1.5z"/></g>
<path d="M543.9 205.9L552.7 192.45H547.95V179H539.85V192.45H535.1Z" fill="#fff" stroke="#1428ea" stroke-width="2" stroke-linejoin="miter"/>
<text transform="translate(522.36 209.89) scale(0.644 0.644)" font-size="20" fill="#222" stroke="#222" stroke-width="0.4">①</text>
<path d="M569.4 128.98L576.96 116.22H572.88V103.45H565.92V116.22H561.84Z" fill="#fff" stroke="#1428ea" stroke-width="1.9" stroke-linejoin="miter"/>
<text transform="translate(540.54 133.14) scale(0.676 0.676)" font-size="20" fill="#222" stroke="#222" stroke-width="0.4">②</text><text transform="translate(553.78 132.6) scale(0.569 0.491)" font-size="20" fill="#222" stroke="#222" stroke-width="0.4">-1</text>
<path d="M590.65 297.98L597.75 287.62H593.92V277.25H587.38V287.62H583.54Z" fill="#fff" stroke="#1428ea" stroke-width="1.9" stroke-linejoin="miter"/>
<text transform="translate(576.54 319.44) scale(0.676 0.676)" font-size="20" fill="#222" stroke="#222" stroke-width="0.4">②</text><text transform="translate(589.79 318.9) scale(0.5585 0.4825)" font-size="20" fill="#222" stroke="#222" stroke-width="0.4">-2</text>
<text transform="matrix(0 0.5635 -0.5635 0 466.77 308.12)" font-size="20" fill="#222" stroke="#222" stroke-width="0.36">②</text>
<text transform="matrix(0 0.5625 -0.3955 0 467.6 319.48)" font-size="20" fill="#222" stroke="#222" stroke-width="0.36">-3</text>
<path d="M486.3 330.98L492.75 320.22H489.27V309.45H483.33V320.22H479.85Z" fill="#fff" stroke="#1428ea" stroke-width="1.9" stroke-linejoin="miter"/>
</g>
<g transform="translate(1120 665.2)"><rect x="338" y="176" width="237" height="41" fill="#4a86d8"/>
<circle cx="426" cy="220" r="3.3" fill="url(#pd)"/>
<circle cx="450" cy="220" r="3.3" fill="url(#pd)"/>
<circle cx="426" cy="231.2" r="3.3" fill="url(#pd)"/>
<circle cx="450" cy="231.2" r="3.3" fill="url(#pd)"/>
<circle cx="426" cy="242.4" r="3.3" fill="url(#pd)"/>
<circle cx="450" cy="242.4" r="3.3" fill="url(#pd)"/>
<circle cx="426" cy="253.6" r="3.3" fill="url(#pd)"/>
<circle cx="450" cy="253.6" r="3.3" fill="url(#pd)"/>
<circle cx="426" cy="264.8" r="3.3" fill="url(#pd)"/>
<circle cx="450" cy="264.8" r="3.3" fill="url(#pd)"/>
<circle cx="426" cy="276" r="3.3" fill="url(#pd)"/>
<circle cx="450" cy="276" r="3.3" fill="url(#pd)"/>
<circle cx="426" cy="287.2" r="3.3" fill="url(#pd)"/>
<circle cx="450" cy="287.2" r="3.3" fill="url(#pd)"/>
<circle cx="426" cy="298.4" r="3.3" fill="url(#pd)"/>
<circle cx="450" cy="298.4" r="3.3" fill="url(#pd)"/>
<circle cx="426" cy="309.6" r="3.3" fill="url(#pd)"/>
<circle cx="450" cy="309.6" r="3.3" fill="url(#pd)"/>
<circle cx="426" cy="320.8" r="3.3" fill="url(#pd)"/>
<circle cx="450" cy="320.8" r="3.3" fill="url(#pd)"/>
<circle cx="426" cy="332" r="3.3" fill="url(#pd)"/>
<circle cx="450" cy="332" r="3.3" fill="url(#pd)"/>
<circle cx="426" cy="343.2" r="3.3" fill="url(#pd)"/>
<circle cx="450" cy="343.2" r="3.3" fill="url(#pd)"/>
<circle cx="426" cy="354.4" r="3.3" fill="url(#pd)"/>
<circle cx="450" cy="354.4" r="3.3" fill="url(#pd)"/>
<circle cx="437.8" cy="224" r="3.3" fill="url(#pd)"/>
<circle cx="437.8" cy="235.4" r="3.3" fill="url(#pd)"/>
<circle cx="437.8" cy="345" r="3.3" fill="url(#pd)"/>
<circle cx="437.8" cy="356" r="3.3" fill="url(#pd)"/>
<path d="M438.3 237.5L452.5 264H443.3V331H433.3V264H423.8Z" fill="url(#pn)"/>
<circle cx="524.3" cy="224.2" r="3.8" fill="#eef3fc" stroke="#2232b8" stroke-width="1.1"/>
<circle cx="536.3" cy="219.8" r="3.8" fill="#eef3fc" stroke="#2232b8" stroke-width="1.1"/>
<circle cx="524.3" cy="236.45" r="3.8" fill="#eef3fc" stroke="#2232b8" stroke-width="1.1"/>
<circle cx="536.3" cy="232.05" r="3.8" fill="#eef3fc" stroke="#2232b8" stroke-width="1.1"/>
<circle cx="524.3" cy="248.7" r="3.8" fill="#eef3fc" stroke="#2232b8" stroke-width="1.1"/>
<circle cx="536.3" cy="244.3" r="3.8" fill="#eef3fc" stroke="#2232b8" stroke-width="1.1"/>
<circle cx="524.3" cy="260.95" r="3.8" fill="#eef3fc" stroke="#2232b8" stroke-width="1.1"/>
<circle cx="536.3" cy="256.55" r="3.8" fill="#eef3fc" stroke="#2232b8" stroke-width="1.1"/>
<circle cx="524.3" cy="273.2" r="3.8" fill="#eef3fc" stroke="#2232b8" stroke-width="1.1"/>
<circle cx="536.3" cy="268.8" r="3.8" fill="#eef3fc" stroke="#2232b8" stroke-width="1.1"/>
<circle cx="524.3" cy="285.45" r="3.8" fill="#eef3fc" stroke="#2232b8" stroke-width="1.1"/>
<circle cx="536.3" cy="281.05" r="3.8" fill="#eef3fc" stroke="#2232b8" stroke-width="1.1"/>
<circle cx="524.3" cy="297.7" r="3.8" fill="#eef3fc" stroke="#2232b8" stroke-width="1.1"/>
<circle cx="536.3" cy="293.3" r="3.8" fill="#eef3fc" stroke="#2232b8" stroke-width="1.1"/>
<circle cx="524.3" cy="309.95" r="3.8" fill="#eef3fc" stroke="#2232b8" stroke-width="1.1"/>
<circle cx="536.3" cy="305.55" r="3.8" fill="#eef3fc" stroke="#2232b8" stroke-width="1.1"/>
<circle cx="524.3" cy="322.2" r="3.8" fill="#eef3fc" stroke="#2232b8" stroke-width="1.1"/>
<circle cx="536.3" cy="317.8" r="3.8" fill="#eef3fc" stroke="#2232b8" stroke-width="1.1"/>
<circle cx="524.3" cy="334.45" r="3.8" fill="#eef3fc" stroke="#2232b8" stroke-width="1.1"/>
<circle cx="536.3" cy="330.05" r="3.8" fill="#eef3fc" stroke="#2232b8" stroke-width="1.1"/>
<circle cx="524.3" cy="346.7" r="3.8" fill="#eef3fc" stroke="#2232b8" stroke-width="1.1"/>
<circle cx="536.3" cy="342.3" r="3.8" fill="#eef3fc" stroke="#2232b8" stroke-width="1.1"/>
<circle cx="524.3" cy="358.95" r="3.8" fill="#eef3fc" stroke="#2232b8" stroke-width="1.1"/>
<circle cx="536.3" cy="354.55" r="3.8" fill="#eef3fc" stroke="#2232b8" stroke-width="1.1"/>
<path d="M531 239.8L536.3 252.8H532.6V332H529.4V252.8H525.7Z" fill="#1428ea"/>
<path d="M341 349.5H623V392.5H316V381.5H341Z" fill="#bccce9"/>
<rect x="284" y="93.5" width="304.5" height="47.5" fill="#fff" stroke="#000" stroke-width="3"/>
<text transform="translate(350.79 115.61) scale(0.9475 0.927)" font-size="20" fill="#000">バソプレッシン</text>
<text transform="translate(482.34 116.13) scale(1.0119 0.9338)" font-size="20" fill="#000">(ADH)</text>
<text transform="translate(537.28 115.85) scale(0.9755 0.881)" font-size="20" fill="#000">の</text>
<text transform="translate(375.25 134.4) scale(0.6945 0.6305)" font-size="20" fill="#000">生成、内分泌、血中濃度</text>
<rect x="337.25" y="161" width="237" height="55.75" fill="none" stroke="#f9330a" stroke-width="3"/>
<path d="M316 380.2H339.5V341.1H624.4V393.5H316" fill="none" stroke="#fbda1c" stroke-width="3.2"/>
<path d="M344.5 258V216C344.5 190 365 172 450 170.5C535 172 565 190 565 216V256C565 267 568 270 580 270.5L600 271.5C610 272.5 612.5 276 612.5 285V322C612.5 330 615 333 622 333.5C628 334 630 336 630 343V388C630 394 627 397 620 397.3L338 397.5C331 397.3 329 395 329 389V284C329 277 330 273 336 271.5C343 270 344.5 267 344.5 258Z" fill="none" stroke="#000" stroke-width="2"/>
<rect x="321.75" y="308.5" width="14.75" height="30.5" fill="#fff" stroke="#000" stroke-width="2"/>
<text transform="translate(322.3 322.14) scale(0.6645 0.7255)" font-size="20" fill="#000">腎</text>
<text transform="translate(323.11 336.07) scale(0.6085 0.7055)" font-size="20" fill="#000">臓</text>
<rect x="414" y="273.5" width="47.5" height="28.75" fill="#fff" stroke="#000" stroke-width="3"/>
<text transform="translate(426.87 286.09) scale(0.5684 0.5446)" font-size="20" fill="#000">Na</text>
<text transform="translate(441.73 285.41) scale(0.5866 0.5723)" font-size="20" fill="#000">+</text>
<text transform="translate(419.27 298.29) scale(0.5985 0.594)" font-size="20" fill="#000">ポンプ</text>
<rect x="467.25" y="273.25" width="135" height="29" fill="#fbfbfb" stroke="#1428dc" stroke-width="3"/>
<text transform="translate(484.03 294.55) scale(0.8105 0.808)" font-size="20" fill="#000">水チャンネル</text>
<text transform="translate(414.95 199.74) scale(1.038 0.964)" font-size="20" fill="#14213f">血漿浸透圧</text>
<text transform="translate(375.34 382.31) scale(1.0325 1.0415)" font-size="20" fill="#14213f">尿浸透圧</text>
<text transform="translate(508.33 382.37) scale(1.04 1.0745)" font-size="20" fill="#14213f">尿量</text>
<text transform="translate(494.86 331.65) scale(1.171 1.295)" font-size="20" fill="#000">再吸収</text>
<g transform="translate(0 0)" stroke="#ee3a1c" stroke-width=".85" stroke-linecap="round" stroke-linejoin="round"><path d="M354.1 151.5C352.5 154 351.5 158 351.9 160.7C352 163 352.6 164.5 357 168.1C360 170 365 171.5 369.3 171.5C371 170.5 372 169 371.9 168.1C372 165 371.5 160 370.4 156.7C370 154.500 369.5 153 369.3 152.600L365.200 151.200L358.200 150.700Z" fill="#fff"/><path d="M354.1 151.500L357.500 150.900L357.800 153.800M358.200 150.800L358.500 148.200L364.800 148L364 150.800L360 153.200M365.200 152.200L369.600 152M360.700 152.600L369.300 171.500M357.500 152.500C357 157 357.500 160 356.300 163.700M362.500 156l5 1.500" fill="none"/></g>
<g transform="translate(0 0)"><ellipse cx="221" cy="388" rx="9" ry="2.2" fill="#d9d9d9"/><ellipse cx="228.5" cy="371.5" rx="4" ry="7.5" transform="rotate(-25 228.5 371.5)" fill="#ecd3d3" stroke="#444" stroke-width=".7"/><path d="M232 379c3-3 12-3 14 1c0 4-4 6-8 6z" fill="#bfe3f5" stroke="#444" stroke-width=".6"/><path d="M232.5 382l10 1.5l-1 7h-11z" fill="#6ec3ee"/></g>
<path d="M589.5 99.5H709V286.75H614" fill="none" stroke="#f9330a" stroke-width="2.3"/>
<path d="M605.5 286.8L616 281.6V291.9Z" fill="#f9330a"/>
<path d="M611.65 284.2h1.5v1.85h1.85v1.5h-1.85v1.85h-1.5v-1.85h-1.85v-1.5h1.85Z" fill="#fff"/>
<path d="M678 228V128.2H610" fill="none" stroke="#1428ea" stroke-width="8.5" stroke-linejoin="round"/>
<path d="M593 128.2L611 119.5V136.8Z" fill="#1428ea"/>
<rect x="603" y="127.2" width="7" height="2" fill="#fff"/>
<rect x="615" y="160.3" width="48.6" height="43.3" fill="#fff" rx="6.5" stroke="#000" stroke-width="1.7"/>
<text transform="translate(625.22 189.77) scale(0.7805 0.759)" font-size="20" fill="#000">飲水</text>
<g transform="translate(0 0)" fill="none" stroke="#000" stroke-width="1.2"><path d="M612.5 157.5h4.4v4.9h16v9l-10 3l-3.4-3.4l-2 4h-5z" fill="#fff" stroke="none"/><path d="M612 158l9.7 15.3M616.7 161.8h16.6M633.3 151.2v20l-10 3l-3.3-3.4M633.3 159.5h18"/><path d="M617.5 163.5h15" stroke="#1428dc"/></g>
<polygon points="650.8,148.2 653.33,152.2 657.74,150.45 657.43,155.18 662.02,156.35 659,160 662.02,163.65 657.43,164.82 657.74,169.55 653.33,167.8 650.8,171.8 648.27,167.8 643.86,169.55 644.17,164.82 639.58,163.65 642.6,160 639.58,156.35 644.17,155.18 643.86,150.45 648.27,152.2" fill="#fff" stroke="#f9330a" stroke-width="1.1"/>
<text transform="translate(648.02 165) scale(0.5103 0.7268)" font-size="20" fill="#000">1</text>
<circle cx="585.4" cy="168.8" r="3.7" fill="none" stroke="#1428ea" stroke-width="1"/>
<circle cx="598" cy="168.8" r="3.7" fill="none" stroke="#1428ea" stroke-width="1"/>
<circle cx="610" cy="168.8" r="3.7" fill="none" stroke="#1428ea" stroke-width="1"/>
<path d="M582 168.8H624" fill="none" stroke="#1428ea" stroke-width="2.2"/>
<path d="M575.8 168.8L583.8 164.7L587 168.8L583.8 172.9Z" fill="#1428ea"/>
<path d="M590 250C575 240 560 230 536 230.8" fill="none" stroke="#1428c8" stroke-width="2"/>
<path d="M590 250C578 240 580 225 590 205C596 192 600 185 601 175" fill="none" stroke="#1428c8" stroke-width="2"/>
<rect x="591.5" y="229.5" width="100.75" height="30" fill="#fff" stroke="#f9330a" stroke-width="3"/>
<text transform="translate(607.11 252.32) scale(0.9585 0.879)" font-size="20" fill="#ea2a15">同じ方向</text>
<g transform="translate(0 0)" fill="#c9d6ec"><path d="M252.5 375.5l14-9v4h50v11.5h-50v4z"/><rect x="260.5" y="362" width="5" height="4.5" fill="#c9d6ec" rx="1.5"/><rect x="260.5" y="384.5" width="5" height="4.5" fill="#c9d6ec" rx="1.5"/><rect x="271.5" y="362" width="5" height="4.5" fill="#c9d6ec" rx="1.5"/><rect x="271.5" y="384.5" width="5" height="4.5" fill="#c9d6ec" rx="1.5"/><rect x="282.5" y="362" width="5" height="4.5" fill="#c9d6ec" rx="1.5"/><rect x="282.5" y="384.5" width="5" height="4.5" fill="#c9d6ec" rx="1.5"/><rect x="293.5" y="362" width="5" height="4.5" fill="#c9d6ec" rx="1.5"/><rect x="293.5" y="384.5" width="5" height="4.5" fill="#c9d6ec" rx="1.5"/><rect x="304.5" y="362" width="5" height="4.5" fill="#c9d6ec" rx="1.5"/><rect x="304.5" y="384.5" width="5" height="4.5" fill="#c9d6ec" rx="1.5"/></g>
<path d="M544.3 205.32L551.12 192.56H547.44V179.8H541.16V192.56H537.48Z" fill="#fff" stroke="#1428ea" stroke-width="1.6" stroke-dasharray="2 1.3" stroke-linejoin="miter"/>
<text transform="translate(522.46 210.59) scale(0.644 0.644)" font-size="20" fill="#14213f" stroke="#14213f" stroke-width="0.4">①</text>
<text transform="translate(548.86 210.59) scale(0.644 0.644)" font-size="20" fill="#14213f" stroke="#14213f" stroke-width="0.4">③</text>
<path d="M472.4 384.56L480.01 371.98H475.9V359.4H468.9V371.98H464.79Z" fill="#fff" stroke="#1428ea" stroke-width="1.8" stroke-linejoin="miter"/>
<text transform="translate(479.54 363.14) scale(0.676 0.676)" font-size="20" fill="#222" stroke="#222" stroke-width="0.4">③</text>
<path d="M566.9 360.1L574.7 372.05H570.49V384H563.31V372.05H559.1Z" fill="#fff" stroke="#f9330a" stroke-width="2" stroke-linejoin="miter"/>
<text transform="translate(577.04 363.44) scale(0.676 0.676)" font-size="20" fill="#222" stroke="#222" stroke-width="0.4">③</text>
<path d="M569.4 128.98L576.96 116.22H572.88V103.45H565.92V116.22H561.84Z" fill="#fff" stroke="#1428ea" stroke-width="1.9" stroke-linejoin="miter"/>
<text transform="translate(540.54 133.14) scale(0.676 0.676)" font-size="20" fill="#222" stroke="#222" stroke-width="0.4">②</text><text transform="translate(553.78 132.6) scale(0.569 0.491)" font-size="20" fill="#222" stroke="#222" stroke-width="0.4">-1</text>
<path d="M590.65 297.98L597.75 287.62H593.92V277.25H587.38V287.62H583.54Z" fill="#fff" stroke="#1428ea" stroke-width="1.9" stroke-linejoin="miter"/>
<text transform="translate(576.54 319.44) scale(0.676 0.676)" font-size="20" fill="#222" stroke="#222" stroke-width="0.4">②</text><text transform="translate(589.79 318.9) scale(0.5585 0.4825)" font-size="20" fill="#222" stroke="#222" stroke-width="0.4">-2</text>
<text transform="matrix(0 0.5635 -0.5635 0 466.77 308.12)" font-size="20" fill="#222" stroke="#222" stroke-width="0.36">②</text>
<text transform="matrix(0 0.5625 -0.3955 0 467.6 319.48)" font-size="20" fill="#222" stroke="#222" stroke-width="0.36">-3</text>
<path d="M486.3 330.98L492.75 320.22H489.27V309.45H483.33V320.22H479.85Z" fill="#fff" stroke="#1428ea" stroke-width="1.9" stroke-linejoin="miter"/>
</g>
<text transform="translate(428.6 62.67) scale(2.407 2.2505)" font-size="20" fill="#000">発汗</text>
<text transform="translate(874.93 64.03) scale(2.4275 2.397)" font-size="20" fill="#000">ベースライン</text>
<text transform="translate(1534.14 61.95) scale(2.3795 2.256)" font-size="20" fill="#000">飲水</text>
<text transform="translate(97.38 72.86) scale(1.4445 1.273)" font-size="20" fill="#000">負の</text>
<text transform="translate(25.85 106.77) scale(1.431 1.299)" font-size="20" fill="#000">フィードバック</text>
<text transform="translate(101.21 237.88) scale(2.444 2.2415)" font-size="20" fill="#000">前</text>
<text transform="translate(99.98 512.49) scale(2.5395 2.477)" font-size="20" fill="#000">開</text>
<text transform="translate(100.85 560.5) scale(2.4435 2.408)" font-size="20" fill="#000">始</text>
<text transform="translate(100.93 608.1) scale(2.4775 2.408)" font-size="20" fill="#000">直</text>
<text transform="translate(101.48 655.91) scale(2.4395 2.465)" font-size="20" fill="#000">後</text>
<text transform="translate(99 897.48) scale(2.6055 2.2305)" font-size="20" fill="#000">中</text>
<text transform="translate(1793.09 21.63) scale(0.824 0.8245)" font-size="20" fill="#000">©生命科学教育</text>
<text transform="translate(1744.3 40.35) scale(0.8035 0.836)" font-size="20" fill="#000">シェアリンググループ</text>
<text transform="translate(872.1 509.16) scale(1.8185 1.672)" font-size="20" fill="#000">塩分</text>
<text transform="translate(969.75 509.15) scale(1.802 1.6795)" font-size="20" fill="#000">水分</text>
<text transform="translate(1089.62 509.25) scale(1.822 1.6995)" font-size="20" fill="#000">浸透圧</text>
<circle cx="888.3" cy="549.2" r="14" fill="url(#pc)"/>
<circle cx="920.2" cy="549.2" r="14" fill="url(#pc)"/>
<circle cx="906.7" cy="591.9" r="14" fill="url(#pc)"/>
<circle cx="907" cy="633" r="14" fill="url(#pc)"/>
<text transform="translate(947.27 566.22) scale(2.2847 2.2892)" font-size="20" fill="#000">+</text>
<text transform="translate(947.27 608.72) scale(2.2847 2.2892)" font-size="20" fill="#000">+</text>
<text transform="translate(947.27 652.92) scale(2.2847 2.2892)" font-size="20" fill="#000">+</text>
<circle cx="1007.3" cy="548.1" r="12.8" fill="#fff" stroke="#1a35c8" stroke-width="3.6"/>
<circle cx="1007.7" cy="591.3" r="12.8" fill="#fff" stroke="#1a35c8" stroke-width="3.6"/>
<circle cx="993.1" cy="637" r="12.8" fill="#fff" stroke="#1a35c8" stroke-width="3.6"/>
<circle cx="1023.3" cy="637" r="12.8" fill="#fff" stroke="#1a35c8" stroke-width="3.6"/>
<text transform="translate(1043.79 563.35) scale(2.2641 1.8308)" font-size="20" fill="#000">=</text>
<text transform="translate(1043.79 606.85) scale(2.2641 1.8308)" font-size="20" fill="#000">=</text>
<text transform="translate(1043.79 649.75) scale(2.2641 1.8308)" font-size="20" fill="#000">=</text>
<circle cx="1100.8" cy="548.5" r="13.8" fill="#1f3864"/>
<circle cx="1101.9" cy="594" r="13.8" fill="#4f8ad9"/>
<circle cx="1086.5" cy="637.7" r="13.8" fill="#c9d6ee"/>
<circle cx="1116" cy="637.7" r="13.8" fill="#c9d3ea"/>
<text transform="translate(1133.42 562.55) scale(1.827 1.6975)" font-size="20" fill="#000">高張</text>
<text transform="translate(1134.61 605.26) scale(1.797 1.69)" font-size="20" fill="#000">等張</text>
<text transform="translate(1135.23 648.94) scale(1.7815 1.7065)" font-size="20" fill="#000">低張</text>
<text transform="translate(910.14 748.13) scale(1.8235 1.75)" font-size="20" fill="#ea2a15">促進</text>
<text transform="translate(856.3 784.73) scale(1.791 1.69)" font-size="20" fill="#ea2a15">亢進、上昇</text>
<text transform="translate(856.49 820.01) scale(1.781 1.679)" font-size="20" fill="#ea2a15">増加、増強</text>
<path d="M1048.3 726H1098V709.4L1130.6 738.5L1098 767.7V751.7H1048.3Z" fill="#f5280f"/>
<path d="M1105 729.35h3.4v8.55h8.55v3.4h-8.55v8.55h-3.4v-8.55h-8.55v-3.4h8.55Z" fill="#fff"/>
<text transform="translate(1125.17 753.57) scale(1.846 1.6645)" font-size="20" fill="#000">させる</text>
<path d="M1083.3 766.6L1104.5 800H1091.8V830.3H1075V800H1062Z" fill="#fff" stroke="#f5280f" stroke-width="4"/>
<text transform="translate(1143.78 818.01) scale(1.835 1.661)" font-size="20" fill="#000">する</text>
<text transform="translate(910.23 876.42) scale(1.7825 1.7595)" font-size="20" fill="#1a24c4">低下</text>
<text transform="translate(856.33 911.81) scale(1.8025 1.699)" font-size="20" fill="#1a24c4">減少、減弱</text>
<text transform="translate(909.79 947.08) scale(1.8 1.699)" font-size="20" fill="#1a24c4">抑制</text>
<path d="M1049.4 852H1098V835.4L1130.6 865L1098 894.8V878H1049.4Z" fill="#1428ea"/>
<rect x="1095.8" y="862.6" width="21.2" height="5" fill="#fff"/>
<text transform="translate(1125.17 881.57) scale(1.846 1.6645)" font-size="20" fill="#000">させる</text>
<path d="M1075.3 893.5H1092.2V925.8H1104.5L1084 959L1063.5 925.8H1075.3Z" fill="#fff" stroke="#1428ea" stroke-width="4"/>
<text transform="translate(1143.78 944.97) scale(1.835 1.6015)" font-size="20" fill="#000">する</text>
<path d="M1057.3 983.8H1092V971.7L1127 989.2L1092 1006.7V995H1057.3Z" fill="#000"/>
<text transform="translate(1142.97 1009.06) scale(1.8325 1.7295)" font-size="20" fill="#000">移動</text>
<g>
<path d="M1820.5 135l-12.5-7.6h-19M1795 127.4l-6-7M1796 127.4l-2 -8" fill="none" stroke="#a3939b" stroke-width="1.3" stroke-linecap="round"/>
<path d="M1873.3 156.5l7.4 18.3l5.3 6l-1 8M1886 181l-9 6M1886 181l-4 10" fill="none" stroke="#a3939b" stroke-width="1.3" stroke-linecap="round"/>
<path id="ckb" d="M1830 97C1822 108 1819 125 1822 138C1826 150 1850 154.500 1875 151.500C1890 148.500 1900 136 1905 121L1914 113C1901 105 1886 96 1867 92.500C1851 90 1839 92 1830 97Z" fill="url(#cg)"/>
<ellipse id="ckh" cx="1844" cy="79.500" rx="22.500" ry="18" fill="#fbdf98"/>
<path d="M1830 97C1822 108 1819 125 1822 138C1826 150 1850 154.500 1875 151.500C1890 148.500 1900 136 1905 121L1914 113C1901 105 1886 96 1867 92.500C1851 90 1839 92 1830 97Z" fill="url(#ph)"/>
<ellipse cx="1844" cy="79.500" rx="22.500" ry="18" fill="url(#ph)"/>
<path d="M1857 104C1869 99 1886 103 1887.500 116C1888 124 1881 130 1872 132.500" fill="none" stroke="#f2b466" stroke-width="3.200" stroke-linecap="round" opacity=".85"/>
<path d="M1838 110C1832 120 1834 136 1846 142" fill="none" stroke="#f7c774" stroke-width="4" stroke-linecap="round" opacity=".6"/>
<path d="M1823.500 70.500l-11.500 2.500l9 7.500z" fill="#f3a273"/>
<ellipse cx="1837" cy="69.500" rx="3.800" ry="4.800" fill="#3a2e26"/>
<path d="M1826 62.500c7 -9 28 -10 37 -3.500l9 3l-1 7l-9 -4.500c-12 -4 -24 -3 -36 -2z" fill="#f1f5f8"/>
<path d="M1864 60l8.500 2.500l-1 6.500l-7 -3.500z" fill="#bfdbe8"/>
</g>
</svg>
</body>
</html>
